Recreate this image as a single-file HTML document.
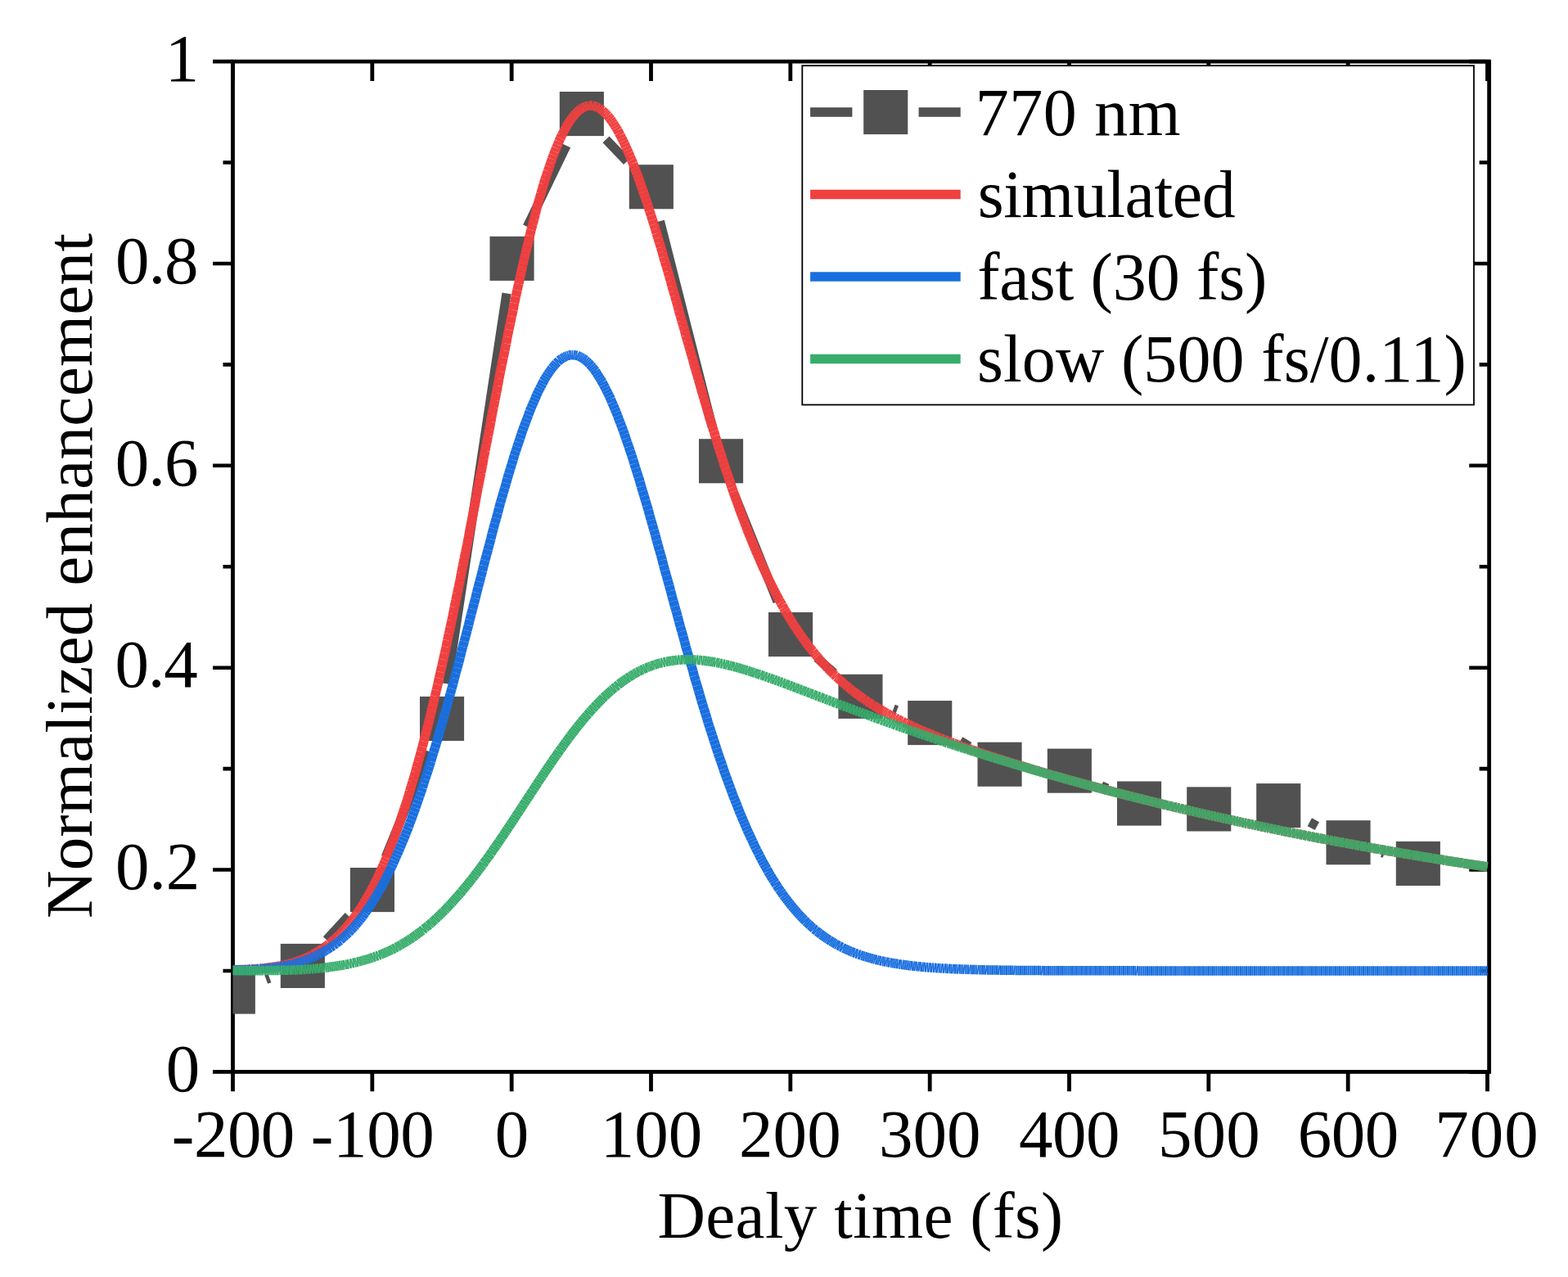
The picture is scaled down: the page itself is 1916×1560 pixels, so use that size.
<!DOCTYPE html>
<html lang="en"><head><meta charset="utf-8"><title>Normalized enhancement vs delay time</title>
<style>html,body{margin:0;padding:0;background:#fff}body{width:1916px;height:1560px;overflow:hidden}svg{display:block}text{font-family:"Liberation Serif",serif;font-size:83.0px;fill:#000;white-space:pre}</style></head><body>
<svg width="1916" height="1560" viewBox="0 0 1916 1560" role="img" aria-label="Normalized enhancement versus delay time">
<rect width="1916" height="1560" fill="#fff"/>
<defs><clipPath id="plot"><rect x="284.5" y="75.1" width="1535.15" height="1234.30"/></clipPath></defs>
<g id="axes" stroke="#000" fill="none">
<path stroke-width="4.8" d="M284.5,72.70V1311.80M1819.65,72.70V1311.80M282.10,75.1H1822.05M282.10,1309.4H1822.05"/>
<path stroke-width="4.8" d="M284.50,1309.4v23.8M284.50,75.1v23.8M454.83,1309.4v23.8M454.83,75.1v23.8M625.17,1309.4v23.8M625.17,75.1v23.8M795.50,1309.4v23.8M795.50,75.1v23.8M965.83,1309.4v23.8M965.83,75.1v23.8M1136.17,1309.4v23.8M1136.17,75.1v23.8M1306.50,1309.4v23.8M1306.50,75.1v23.8M1476.83,1309.4v23.8M1476.83,75.1v23.8M1647.17,1309.4v23.8M1647.17,75.1v23.8M1817.50,1309.4v23.8M1817.50,75.1v23.8"/>
<path stroke-width="4.6" d="M284.5,1309.40h-24.4M1819.65,1309.40h-24.4M284.5,1185.97h-12.0M1819.65,1185.97h-12.0M284.5,1062.54h-24.4M1819.65,1062.54h-24.4M284.5,939.11h-12.0M1819.65,939.11h-12.0M284.5,815.68h-24.4M1819.65,815.68h-24.4M284.5,692.25h-12.0M1819.65,692.25h-12.0M284.5,568.82h-24.4M1819.65,568.82h-24.4M284.5,445.39h-12.0M1819.65,445.39h-12.0M284.5,321.96h-24.4M1819.65,321.96h-24.4M284.5,198.53h-12.0M1819.65,198.53h-12.0M284.5,75.10h-24.4M1819.65,75.10h-24.4"/>
</g>
<g id="data" clip-path="url(#plot)" fill="none">
<path d="M325.2,1196.5L329.5,1194.9M399.0,1148.1L425.9,1118.9M471.2,1047.2L523.8,917.8M546.5,835.3L619.0,358.4M644.2,277.0L692.1,177.9M740.5,170.3L766.1,197.1M806.4,270.1L870.4,521.5M897.1,603.3L950.0,735.0M998.3,803.6L1019.2,822.2M1091.7,866.1L1096.0,867.7M1173.4,905.1L1184.5,911.7M1345.8,959.9L1353.0,963.2M1600.3,1004.2L1609.4,1009.1M1688.8,1041.6L1691.5,1042.5" stroke="#515151" stroke-width="11.2"/>
<g fill="#515151"><rect x="257.8" y="1184.5" width="54.1" height="54.1"/><rect x="342.8" y="1152.9" width="54.1" height="54.1"/><rect x="427.9" y="1060.0" width="54.1" height="54.1"/><rect x="513.0" y="850.9" width="54.1" height="54.1"/><rect x="598.5" y="288.8" width="54.1" height="54.1"/><rect x="683.8" y="112.0" width="54.1" height="54.1"/><rect x="768.8" y="201.2" width="54.1" height="54.1"/><rect x="854.0" y="536.2" width="54.1" height="54.1"/><rect x="939.0" y="748.0" width="54.1" height="54.1"/><rect x="1024.4" y="823.8" width="54.1" height="54.1"/><rect x="1109.2" y="856.0" width="54.1" height="54.1"/><rect x="1194.5" y="906.7" width="54.1" height="54.1"/><rect x="1279.8" y="914.6" width="54.1" height="54.1"/><rect x="1365.0" y="954.5" width="54.1" height="54.1"/><rect x="1450.2" y="961.4" width="54.1" height="54.1"/><rect x="1535.2" y="957.1" width="54.1" height="54.1"/><rect x="1620.5" y="1002.2" width="54.1" height="54.1"/><rect x="1705.8" y="1027.9" width="54.1" height="54.1"/></g>
<g id="simulated" stroke="#F14040" stroke-width="11.5"><path d="M284.5,1184.75L286.25,1184.75"/><path d="M286.25,1184.75L288,1184.75"/><path d="M288,1184.75L289.5,1184.75"/><path d="M289.5,1184.75L291.25,1184.75"/><path d="M291.25,1184.75L293,1184.5"/><path d="M293,1184.5L294.75,1184.5"/><path d="M294.75,1184.5L296.5,1184.5"/><path d="M296.5,1184.5L298.25,1184.5"/><path d="M298.25,1184.5L299.75,1184.5"/><path d="M299.75,1184.5L301.5,1184.25"/><path d="M301.5,1184.25L303.25,1184.25"/><path d="M303.25,1184.25L305,1184.25"/><path d="M305,1184.25L306.75,1184"/><path d="M306.75,1184L308.25,1184"/><path d="M308.25,1184L310,1183.75"/><path d="M310,1183.75L311.75,1183.75"/><path d="M311.75,1183.75L313.5,1183.75"/><path d="M313.5,1183.75L315.25,1183.5"/><path d="M315.25,1183.5L316.75,1183.25"/><path d="M316.75,1183.25L318.5,1183.25"/><path d="M318.5,1183.25L320.25,1183"/><path d="M320.25,1183L322,1182.75"/><path d="M322,1182.75L323.75,1182.75"/><path d="M323.75,1182.75L325.5,1182.5"/><path d="M325.5,1182.5L327,1182.25"/><path d="M327,1182.25L328.75,1182"/><path d="M328.75,1182L330.5,1181.75"/><path d="M330.5,1181.75L332.25,1181.5"/><path d="M332.25,1181.5L334,1181.25"/><path d="M334,1181.25L335.5,1181"/><path d="M335.5,1181L337.25,1180.75"/><path d="M337.25,1180.75L339,1180.5"/><path d="M339,1180.5L340.75,1180.25"/><path d="M340.75,1180.25L342.5,1179.75"/><path d="M342.5,1179.75L344,1179.5"/><path d="M344,1179.5L345.75,1179.25"/><path d="M345.75,1179.25L347.5,1178.75"/><path d="M347.5,1178.75L349.25,1178.5"/><path d="M349.25,1178.5L351,1178"/><path d="M351,1178L352.75,1177.5"/><path d="M352.75,1177.5L354.25,1177.25"/><path d="M354.25,1177.25L356,1176.75"/><path d="M356,1176.75L357.75,1176.25"/><path d="M357.75,1176.25L359.5,1175.75"/><path d="M359.5,1175.75L361.25,1175"/><path d="M361.25,1175L362.75,1174.5"/><path d="M362.75,1174.5L364.5,1174"/><path d="M364.5,1174L366.25,1173.25"/><path d="M366.25,1173.25L368,1172.5"/><path d="M368,1172.5L369.75,1172"/><path d="M369.75,1172L371.5,1171.25"/><path d="M371.5,1171.25L373,1170.5"/><path d="M373,1170.5L374.75,1169.75"/><path d="M374.75,1169.75L376.5,1169"/><path d="M376.5,1169L378.25,1168"/><path d="M378.25,1168L380,1167.25"/><path d="M380,1167.25L381.5,1166.25"/><path d="M381.5,1166.25L383.25,1165.5"/><path d="M383.25,1165.5L385,1164.5"/><path d="M385,1164.5L386.75,1163.5"/><path d="M386.75,1163.5L388.5,1162.5"/><path d="M388.5,1162.5L390,1161.5"/><path d="M390,1161.5L391.75,1160.5"/><path d="M391.75,1160.5L393.5,1159.25"/><path d="M393.5,1159.25L395.25,1158"/><path d="M395.25,1158L397,1157"/><path d="M397,1157L398.75,1155.75"/><path d="M398.75,1155.75L400.25,1154.5"/><path d="M400.25,1154.5L402,1153"/><path d="M402,1153L403.75,1151.75"/><path d="M403.75,1151.75L405.5,1150.25"/><path d="M405.5,1150.25L407.25,1148.75"/><path d="M407.25,1148.75L408.75,1147.25"/><path d="M408.75,1147.25L410.5,1145.75"/><path d="M410.5,1145.75L412.25,1144.25"/><path d="M412.25,1144.25L414,1142.5"/><path d="M414,1142.5L415.75,1141"/><path d="M415.75,1141L417.25,1139.25"/><path d="M417.25,1139.25L419,1137.25"/><path d="M419,1137.25L420.75,1135.5"/><path d="M420.75,1135.5L422.5,1133.5"/><path d="M422.5,1133.5L424.25,1131.5"/><path d="M424.25,1131.5L426,1129.5"/><path d="M426,1129.5L427.5,1127.5"/><path d="M427.5,1127.5L429.25,1125.25"/><path d="M429.25,1125.25L431,1123.25"/><path d="M431,1123.25L432.75,1121"/><path d="M432.75,1121L434.5,1118.5"/><path d="M434.5,1118.5L436,1116.25"/><path d="M436,1116.25L437.75,1113.75"/><path d="M437.75,1113.75L439.5,1111.25"/><path d="M439.5,1111.25L441.25,1108.5"/><path d="M441.25,1108.5L443,1106"/><path d="M443,1106L444.5,1103.25"/><path d="M444.5,1103.25L446.25,1100.25"/><path d="M446.25,1100.25L448,1097.5"/><path d="M448,1097.5L449.75,1094.5"/><path d="M449.75,1094.5L451.5,1091.5"/><path d="M451.5,1091.5L453.25,1088.25"/><path d="M453.25,1088.25L454.75,1085.25"/><path d="M454.75,1085.25L456.5,1081.75"/><path d="M456.5,1081.75L458.25,1078.5"/><path d="M458.25,1078.5L460,1075"/><path d="M460,1075L461.75,1071.5"/><path d="M461.75,1071.5L463.25,1068"/><path d="M463.25,1068L465,1064.25"/><path d="M465,1064.25L466.75,1060.5"/><path d="M466.75,1060.5L468.5,1056.5"/><path d="M468.5,1056.5L470.25,1052.5"/><path d="M470.25,1052.5L472,1048.5"/><path d="M472,1048.5L473.5,1044.5"/><path d="M473.5,1044.5L475.25,1040.25"/><path d="M475.25,1040.25L477,1036"/><path d="M477,1036L478.75,1031.5"/><path d="M478.75,1031.5L480.5,1027"/><path d="M480.5,1027L482,1022.5"/><path d="M482,1022.5L483.75,1017.75"/><path d="M483.75,1017.75L485.5,1013.25"/><path d="M485.5,1013.25L487.25,1008.25"/><path d="M487.25,1008.25L489,1003.5"/><path d="M489,1003.5L490.5,998.5"/><path d="M490.5,998.5L492.25,993.25"/><path d="M492.25,993.25L494,988"/><path d="M494,988L495.75,982.75"/><path d="M495.75,982.75L497.5,977.5"/><path d="M497.5,977.5L499.25,972"/><path d="M499.25,972L500.75,966.5"/><path d="M500.75,966.5L502.5,960.75"/><path d="M502.5,960.75L504.25,955"/><path d="M504.25,955L506,949.25"/><path d="M506,949.25L507.75,943.25"/><path d="M507.75,943.25L509.25,937.25"/><path d="M509.25,937.25L511,931"/><path d="M511,931L512.75,924.75"/><path d="M512.75,924.75L514.5,918.5"/><path d="M514.5,918.5L516.25,912.25"/><path d="M516.25,912.25L517.75,905.75"/><path d="M517.75,905.75L519.5,899"/><path d="M519.5,899L521.25,892.5"/><path d="M521.25,892.5L523,885.75"/><path d="M523,885.75L524.75,878.75"/><path d="M524.75,878.75L526.5,872"/><path d="M526.5,872L528,864.75"/><path d="M528,864.75L529.75,857.75"/><path d="M529.75,857.75L531.5,850.5"/><path d="M531.5,850.5L533.25,843.25"/><path d="M533.25,843.25L535,836"/><path d="M535,836L536.5,828.5"/><path d="M536.5,828.5L538.25,821"/><path d="M538.25,821L540,813.5"/><path d="M540,813.5L541.75,805.75"/><path d="M541.75,805.75L543.5,798"/><path d="M543.5,798L545.25,790.25"/><path d="M545.25,790.25L546.75,782.25"/><path d="M546.75,782.25L548.5,774.25"/><path d="M548.5,774.25L550.25,766.25"/><path d="M550.25,766.25L552,758.25"/><path d="M552,758.25L553.75,750"/><path d="M553.75,750L555.25,741.75"/><path d="M555.25,741.75L557,733.5"/><path d="M557,733.5L558.75,725.25"/><path d="M558.75,725.25L560.5,716.75"/><path d="M560.5,716.75L562.25,708.5"/><path d="M562.25,708.5L563.75,700"/><path d="M563.75,700L565.5,691.5"/><path d="M565.5,691.5L567.25,682.75"/><path d="M567.25,682.75L569,674.25"/><path d="M569,674.25L570.75,665.5"/><path d="M570.75,665.5L572.5,656.75"/><path d="M572.5,656.75L574,648"/><path d="M574,648L575.75,639.25"/><path d="M575.75,639.25L577.5,630.5"/><path d="M577.5,630.5L579.25,621.75"/><path d="M579.25,621.75L581,613"/><path d="M581,613L582.5,604"/><path d="M582.5,604L584.25,595.25"/><path d="M584.25,595.25L586,586.25"/><path d="M586,586.25L587.75,577.5"/><path d="M587.75,577.5L589.5,568.5"/><path d="M589.5,568.5L591,559.5"/><path d="M591,559.5L592.75,550.75"/><path d="M592.75,550.75L594.5,541.75"/><path d="M594.5,541.75L596.25,533"/><path d="M596.25,533L598,524"/><path d="M598,524L599.75,515.25"/><path d="M599.75,515.25L601.25,506.25"/><path d="M601.25,506.25L603,497.5"/><path d="M603,497.5L604.75,488.75"/><path d="M604.75,488.75L606.5,480"/><path d="M606.5,480L608.25,471.25"/><path d="M608.25,471.25L609.75,462.5"/><path d="M609.75,462.5L611.5,453.75"/><path d="M611.5,453.75L613.25,445.25"/><path d="M613.25,445.25L615,436.75"/><path d="M615,436.75L616.75,428.25"/><path d="M616.75,428.25L618.5,419.75"/><path d="M618.5,419.75L620,411.25"/><path d="M620,411.25L621.75,403"/><path d="M621.75,403L623.5,394.75"/><path d="M623.5,394.75L625.25,386.5"/><path d="M625.25,386.5L627,378.5"/><path d="M627,378.5L628.5,370.25"/><path d="M628.5,370.25L630.25,362.25"/><path d="M630.25,362.25L632,354.5"/><path d="M632,354.5L633.75,346.75"/><path d="M633.75,346.75L635.5,339"/><path d="M635.5,339L637,331.5"/><path d="M637,331.5L638.75,323.75"/><path d="M638.75,323.75L640.5,316.5"/><path d="M640.5,316.5L642.25,309.25"/><path d="M642.25,309.25L644,302"/><path d="M644,302L645.75,294.75"/><path d="M645.75,294.75L647.25,288"/><path d="M647.25,288L649,281"/><path d="M649,281L650.75,274.25"/><path d="M650.75,274.25L652.5,267.75"/><path d="M652.5,267.75L654.25,261.25"/><path d="M654.25,261.25L655.75,254.75"/><path d="M655.75,254.75L657.5,248.5"/><path d="M657.5,248.5L659.25,242.5"/><path d="M659.25,242.5L661,236.5"/><path d="M661,236.5L662.75,230.75"/><path d="M662.75,230.75L664.25,225"/><path d="M664.25,225L666,219.5"/><path d="M666,219.5L667.75,214.25"/><path d="M667.75,214.25L669.5,209"/><path d="M669.5,209L671.25,204"/><path d="M671.25,204L673,199"/><path d="M673,199L674.5,194.25"/><path d="M674.5,194.25L676.25,189.5"/><path d="M676.25,189.5L678,185.25"/><path d="M678,185.25L679.75,180.75"/><path d="M679.75,180.75L681.5,176.75"/><path d="M681.5,176.75L683,172.75"/><path d="M683,172.75L684.75,169"/><path d="M684.75,169L686.5,165.25"/><path d="M686.5,165.25L688.25,162"/><path d="M688.25,162L690,158.5"/><path d="M690,158.5L691.5,155.5"/><path d="M691.5,155.5L693.25,152.5"/><path d="M693.25,152.5L695,149.75"/><path d="M695,149.75L696.75,147.25"/><path d="M696.75,147.25L698.5,144.75"/><path d="M698.5,144.75L700.25,142.5"/><path d="M700.25,142.5L701.75,140.5"/><path d="M701.75,140.5L703.5,138.5"/><path d="M703.5,138.5L705.25,136.75"/><path d="M705.25,136.75L707,135.25"/><path d="M707,135.25L708.75,133.75"/><path d="M708.75,133.75L710.25,132.5"/><path d="M710.25,132.5L712,131.5"/><path d="M712,131.5L713.75,130.75"/><path d="M713.75,130.75L715.5,130"/><path d="M715.5,130L717.25,129.5"/><path d="M717.25,129.5L719,129"/><path d="M719,129L720.5,129"/><path d="M720.5,129L722.25,129"/><path d="M722.25,129L724,129"/><path d="M724,129L725.75,129.5"/><path d="M725.75,129.5L727.5,130"/><path d="M727.5,130L729,130.5"/><path d="M729,130.5L730.75,131.5"/><path d="M730.75,131.5L732.5,132.25"/><path d="M732.5,132.25L734.25,133.5"/><path d="M734.25,133.5L736,134.75"/><path d="M736,134.75L737.5,136.25"/><path d="M737.5,136.25L739.25,138"/><path d="M739.25,138L741,139.75"/><path d="M741,139.75L742.75,141.5"/><path d="M742.75,141.5L744.5,143.75"/><path d="M744.5,143.75L746.25,146"/><path d="M746.25,146L747.75,148.25"/><path d="M747.75,148.25L749.5,150.75"/><path d="M749.5,150.75L751.25,153.5"/><path d="M751.25,153.5L753,156.25"/><path d="M753,156.25L754.75,159"/><path d="M754.75,159L756.25,162.25"/><path d="M756.25,162.25L758,165.25"/><path d="M758,165.25L759.75,168.75"/><path d="M759.75,168.75L761.5,172.25"/><path d="M761.5,172.25L763.25,175.75"/><path d="M763.25,175.75L764.75,179.5"/><path d="M764.75,179.5L766.5,183.25"/><path d="M766.5,183.25L768.25,187"/><path d="M768.25,187L770,191.25"/><path d="M770,191.25L771.75,195.25"/><path d="M771.75,195.25L773.5,199.5"/><path d="M773.5,199.5L775,204"/><path d="M775,204L776.75,208.25"/><path d="M776.75,208.25L778.5,212.75"/><path d="M778.5,212.75L780.25,217.5"/><path d="M780.25,217.5L782,222.25"/><path d="M782,222.25L783.5,227"/><path d="M783.5,227L785.25,232"/><path d="M785.25,232L787,237"/><path d="M787,237L788.75,242"/><path d="M788.75,242L790.5,247.25"/><path d="M790.5,247.25L792.25,252.5"/><path d="M792.25,252.5L793.75,257.75"/><path d="M793.75,257.75L795.5,263"/><path d="M795.5,263L797.25,268.5"/><path d="M797.25,268.5L799,274"/><path d="M799,274L800.75,279.5"/><path d="M800.75,279.5L802.25,285"/><path d="M802.25,285L804,290.75"/><path d="M804,290.75L805.75,296.25"/><path d="M805.75,296.25L807.5,302"/><path d="M807.5,302L809.25,307.75"/><path d="M809.25,307.75L810.75,313.75"/><path d="M810.75,313.75L812.5,319.5"/><path d="M812.5,319.5L814.25,325.25"/><path d="M814.25,325.25L816,331.25"/><path d="M816,331.25L817.75,337.25"/><path d="M817.75,337.25L819.5,343.25"/><path d="M819.5,343.25L821,349.25"/><path d="M821,349.25L822.75,355.25"/><path d="M822.75,355.25L824.5,361.25"/><path d="M824.5,361.25L826.25,367.25"/><path d="M826.25,367.25L828,373.25"/><path d="M828,373.25L829.5,379.25"/><path d="M829.5,379.25L831.25,385.5"/><path d="M831.25,385.5L833,391.5"/><path d="M833,391.5L834.75,397.5"/><path d="M834.75,397.5L836.5,403.5"/><path d="M836.5,403.5L838,409.75"/><path d="M838,409.75L839.75,415.75"/><path d="M839.75,415.75L841.5,421.75"/><path d="M841.5,421.75L843.25,427.75"/><path d="M843.25,427.75L845,433.75"/><path d="M845,433.75L846.75,439.75"/><path d="M846.75,439.75L848.25,445.75"/><path d="M848.25,445.75L850,451.75"/><path d="M850,451.75L851.75,457.75"/><path d="M851.75,457.75L853.5,463.75"/><path d="M853.5,463.75L855.25,469.5"/><path d="M855.25,469.5L856.75,475.5"/><path d="M856.75,475.5L858.5,481.25"/><path d="M858.5,481.25L860.25,487.25"/><path d="M860.25,487.25L862,493"/><path d="M862,493L863.75,498.75"/><path d="M863.75,498.75L865.25,504.5"/><path d="M865.25,504.5L867,510.25"/><path d="M867,510.25L868.75,515.75"/><path d="M868.75,515.75L870.5,521.5"/><path d="M870.5,521.5L872.25,527"/><path d="M872.25,527L874,532.5"/><path d="M874,532.5L875.5,538"/><path d="M875.5,538L877.25,543.5"/><path d="M877.25,543.5L879,549"/><path d="M879,549L880.75,554.25"/><path d="M880.75,554.25L882.5,559.75"/><path d="M882.5,559.75L884,565"/><path d="M884,565L885.75,570.25"/><path d="M885.75,570.25L887.5,575.25"/><path d="M887.5,575.25L889.25,580.5"/><path d="M889.25,580.5L891,585.5"/><path d="M891,585.5L892.75,590.5"/><path d="M892.75,590.5L894.25,595.5"/><path d="M894.25,595.5L896,600.5"/><path d="M896,600.5L897.75,605.5"/><path d="M897.75,605.5L899.5,610.25"/><path d="M899.5,610.25L901.25,615"/><path d="M901.25,615L902.75,619.75"/><path d="M902.75,619.75L904.5,624.25"/><path d="M904.5,624.25L906.25,629"/><path d="M906.25,629L908,633.5"/><path d="M908,633.5L909.75,638"/><path d="M909.75,638L911.25,642.5"/><path d="M911.25,642.5L913,647"/><path d="M913,647L914.75,651.25"/><path d="M914.75,651.25L916.5,655.5"/><path d="M916.5,655.5L918.25,659.75"/><path d="M918.25,659.75L920,664"/><path d="M920,664L921.5,668"/><path d="M921.5,668L923.25,672"/><path d="M923.25,672L925,676.25"/><path d="M925,676.25L926.75,680"/><path d="M926.75,680L928.5,684"/><path d="M928.5,684L930,687.75"/><path d="M930,687.75L931.75,691.75"/><path d="M931.75,691.75L933.5,695.5"/><path d="M933.5,695.5L935.25,699"/><path d="M935.25,699L937,702.75"/><path d="M937,702.75L938.5,706.25"/><path d="M938.5,706.25L940.25,709.75"/><path d="M940.25,709.75L942,713.25"/><path d="M942,713.25L943.75,716.75"/><path d="M943.75,716.75L945.5,720"/><path d="M945.5,720L947.25,723.5"/><path d="M947.25,723.5L948.75,726.75"/><path d="M948.75,726.75L950.5,730"/><path d="M950.5,730L952.25,733"/><path d="M952.25,733L954,736.25"/><path d="M954,736.25L955.75,739.25"/><path d="M955.75,739.25L957.25,742.25"/><path d="M957.25,742.25L959,745.25"/><path d="M959,745.25L960.75,748.25"/><path d="M960.75,748.25L962.5,751"/><path d="M962.5,751L964.25,754"/><path d="M964.25,754L966,756.75"/><path d="M966,756.75L967.5,759.5"/><path d="M967.5,759.5L969.25,762.25"/><path d="M969.25,762.25L971,764.75"/><path d="M971,764.75L972.75,767.5"/><path d="M972.75,767.5L974.5,770"/><path d="M974.5,770L976,772.5"/><path d="M976,772.5L977.75,775"/><path d="M977.75,775L979.5,777.5"/><path d="M979.5,777.5L981.25,779.75"/><path d="M981.25,779.75L983,782.25"/><path d="M983,782.25L984.5,784.5"/><path d="M984.5,784.5L986.25,786.75"/><path d="M986.25,786.75L988,789"/><path d="M988,789L989.75,791.25"/><path d="M989.75,791.25L991.5,793.5"/><path d="M991.5,793.5L993.25,795.5"/><path d="M993.25,795.5L994.75,797.75"/><path d="M994.75,797.75L996.5,799.75"/><path d="M996.5,799.75L998.25,801.75"/><path d="M998.25,801.75L1000,803.75"/><path d="M1000,803.75L1001.75,805.75"/><path d="M1001.75,805.75L1003.25,807.75"/><path d="M1003.25,807.75L1005,809.5"/><path d="M1005,809.5L1006.75,811.5"/><path d="M1006.75,811.5L1008.5,813.25"/><path d="M1008.5,813.25L1010.25,815"/><path d="M1010.25,815L1011.75,817"/><path d="M1011.75,817L1013.5,818.75"/><path d="M1013.5,818.75L1015.25,820.25"/><path d="M1015.25,820.25L1017,822"/><path d="M1017,822L1018.75,823.75"/><path d="M1018.75,823.75L1020.5,825.25"/><path d="M1020.5,825.25L1022,827"/><path d="M1022,827L1023.75,828.5"/><path d="M1023.75,828.5L1025.5,830"/><path d="M1025.5,830L1027.25,831.75"/><path d="M1027.25,831.75L1029,833.25"/><path d="M1029,833.25L1030.5,834.5"/><path d="M1030.5,834.5L1032.25,836"/><path d="M1032.25,836L1034,837.5"/><path d="M1034,837.5L1035.75,839"/><path d="M1035.75,839L1037.5,840.25"/><path d="M1037.5,840.25L1039.25,841.75"/><path d="M1039.25,841.75L1040.75,843"/><path d="M1040.75,843L1042.5,844.5"/><path d="M1042.5,844.5L1044.25,845.75"/><path d="M1044.25,845.75L1046,847"/><path d="M1046,847L1047.75,848.25"/><path d="M1047.75,848.25L1049.25,849.5"/><path d="M1049.25,849.5L1051,850.75"/><path d="M1051,850.75L1052.75,852"/><path d="M1052.75,852L1054.5,853.25"/><path d="M1054.5,853.25L1056.25,854.25"/><path d="M1056.25,854.25L1057.75,855.5"/><path d="M1057.75,855.5L1059.5,856.75"/><path d="M1059.5,856.75L1061.25,857.75"/><path d="M1061.25,857.75L1063,859"/><path d="M1063,859L1064.75,860"/><path d="M1064.75,860L1066.5,861"/><path d="M1066.5,861L1068,862.25"/><path d="M1068,862.25L1069.75,863.25"/><path d="M1069.75,863.25L1071.5,864.25"/><path d="M1071.5,864.25L1073.25,865.25"/><path d="M1073.25,865.25L1075,866.25"/><path d="M1075,866.25L1076.5,867.25"/><path d="M1076.5,867.25L1078.25,868.25"/><path d="M1078.25,868.25L1080,869.25"/><path d="M1080,869.25L1081.75,870.25"/><path d="M1081.75,870.25L1083.5,871.25"/><path d="M1083.5,871.25L1085,872.25"/><path d="M1085,872.25L1086.75,873.25"/><path d="M1086.75,873.25L1088.5,874"/><path d="M1088.5,874L1090.25,875"/><path d="M1090.25,875L1092,876"/><path d="M1092,876L1093.75,876.75"/><path d="M1093.75,876.75L1095.25,877.75"/><path d="M1095.25,877.75L1097,878.5"/><path d="M1097,878.5L1098.75,879.5"/><path d="M1098.75,879.5L1100.5,880.25"/><path d="M1100.5,880.25L1102.25,881"/><path d="M1102.25,881L1103.75,882"/><path d="M1103.75,882L1105.5,882.75"/><path d="M1105.5,882.75L1107.25,883.5"/><path d="M1107.25,883.5L1109,884.5"/><path d="M1109,884.5L1110.75,885.25"/><path d="M1110.75,885.25L1112.25,886"/><path d="M1112.25,886L1114,886.75"/><path d="M1114,886.75L1115.75,887.5"/><path d="M1115.75,887.5L1117.5,888.5"/><path d="M1117.5,888.5L1119.25,889.25"/><path d="M1119.25,889.25L1121,890"/><path d="M1121,890L1122.5,890.75"/><path d="M1122.5,890.75L1124.25,891.5"/><path d="M1124.25,891.5L1126,892.25"/><path d="M1126,892.25L1127.75,893"/><path d="M1127.75,893L1129.5,893.75"/><path d="M1129.5,893.75L1131,894.25"/><path d="M1131,894.25L1132.75,895"/><path d="M1132.75,895L1134.5,895.75"/><path d="M1134.5,895.75L1136.25,896.5"/><path d="M1136.25,896.5L1138,897.25"/><path d="M1138,897.25L1139.75,898"/><path d="M1139.75,898L1141.25,898.5"/><path d="M1141.25,898.5L1143,899.25"/><path d="M1143,899.25L1144.75,900"/><path d="M1144.75,900L1146.5,900.75"/><path d="M1146.5,900.75L1148.25,901.25"/><path d="M1148.25,901.25L1149.75,902"/><path d="M1149.75,902L1151.5,902.75"/><path d="M1151.5,902.75L1153.25,903.25"/><path d="M1153.25,903.25L1155,904"/><path d="M1155,904L1156.75,904.75"/><path d="M1156.75,904.75L1158.25,905.25"/><path d="M1158.25,905.25L1160,906"/><path d="M1160,906L1161.75,906.5"/><path d="M1161.75,906.5L1163.5,907.25"/><path d="M1163.5,907.25L1165.25,907.75"/><path d="M1165.25,907.75L1167,908.5"/><path d="M1167,908.5L1168.5,909.25"/><path d="M1168.5,909.25L1170.25,909.75"/><path d="M1170.25,909.75L1172,910.25"/><path d="M1172,910.25L1173.75,911"/><path d="M1173.75,911L1175.5,911.5"/><path d="M1175.5,911.5L1177,912.25"/><path d="M1177,912.25L1178.75,912.75"/><path d="M1178.75,912.75L1180.5,913.5"/><path d="M1180.5,913.5L1182.25,914"/><path d="M1182.25,914L1184,914.75"/><path d="M1184,914.75L1185.5,915.25"/><path d="M1185.5,915.25L1187.25,915.75"/><path d="M1187.25,915.75L1189,916.5"/><path d="M1189,916.5L1190.75,917"/><path d="M1190.75,917L1192.5,917.5"/><path d="M1192.5,917.5L1194.25,918.25"/><path d="M1194.25,918.25L1195.75,918.75"/><path d="M1195.75,918.75L1197.5,919.25"/><path d="M1197.5,919.25L1199.25,920"/><path d="M1199.25,920L1201,920.5"/><path d="M1201,920.5L1202.75,921"/><path d="M1202.75,921L1204.25,921.75"/><path d="M1204.25,921.75L1206,922.25"/><path d="M1206,922.25L1207.75,922.75"/><path d="M1207.75,922.75L1209.5,923.25"/><path d="M1209.5,923.25L1211.25,924"/><path d="M1211.25,924L1213,924.5"/><path d="M1213,924.5L1214.5,925"/><path d="M1214.5,925L1216.25,925.5"/><path d="M1216.25,925.5L1218,926"/><path d="M1218,926L1219.75,926.75"/><path d="M1219.75,926.75L1221.5,927.25"/><path d="M1221.5,927.25L1223,927.75"/><path d="M1223,927.75L1224.75,928.25"/><path d="M1224.75,928.25L1226.5,928.75"/><path d="M1226.5,928.75L1228.25,929.5"/><path d="M1228.25,929.5L1230,930"/><path d="M1230,930L1231.5,930.5"/><path d="M1231.5,930.5L1233.25,931"/><path d="M1233.25,931L1235,931.5"/><path d="M1235,931.5L1236.75,932"/><path d="M1236.75,932L1238.5,932.5"/><path d="M1238.5,932.5L1240.25,933.25"/><path d="M1240.25,933.25L1241.75,933.75"/><path d="M1241.75,933.75L1243.5,934.25"/><path d="M1243.5,934.25L1245.25,934.75"/><path d="M1245.25,934.75L1247,935.25"/><path d="M1247,935.25L1248.75,935.75"/><path d="M1248.75,935.75L1250.25,936.25"/><path d="M1250.25,936.25L1252,936.75"/><path d="M1252,936.75L1253.75,937.25"/><path d="M1253.75,937.25L1255.5,937.75"/><path d="M1255.5,937.75L1257.25,938.25"/><path d="M1257.25,938.25L1258.75,938.75"/><path d="M1258.75,938.75L1260.5,939.5"/><path d="M1260.5,939.5L1262.25,940"/><path d="M1262.25,940L1264,940.5"/><path d="M1264,940.5L1265.75,941"/><path d="M1265.75,941L1267.5,941.5"/><path d="M1267.5,941.5L1269,942"/><path d="M1269,942L1270.75,942.5"/><path d="M1270.75,942.5L1272.5,943"/><path d="M1272.5,943L1274.25,943.5"/><path d="M1274.25,943.5L1276,944"/><path d="M1276,944L1277.5,944.5"/><path d="M1277.5,944.5L1279.25,945"/><path d="M1279.25,945L1281,945.5"/><path d="M1281,945.5L1282.75,946"/><path d="M1282.75,946L1284.5,946.5"/><path d="M1284.5,946.5L1286.25,947"/><path d="M1286.25,947L1287.75,947.5"/><path d="M1287.75,947.5L1289.5,948"/><path d="M1289.5,948L1291.25,948.25"/><path d="M1291.25,948.25L1293,948.75"/><path d="M1293,948.75L1294.75,949.25"/><path d="M1294.75,949.25L1296.25,949.75"/><path d="M1296.25,949.75L1298,950.25"/><path d="M1298,950.25L1299.75,950.75"/><path d="M1299.75,950.75L1301.5,951.25"/><path d="M1301.5,951.25L1303.25,951.75"/><path d="M1303.25,951.75L1304.75,952.25"/><path d="M1304.75,952.25L1306.5,952.75"/><path d="M1306.5,952.75L1308.25,953.25"/><path d="M1308.25,953.25L1310,953.75"/><path d="M1310,953.75L1311.75,954.25"/><path d="M1311.75,954.25L1313.5,954.5"/><path d="M1313.5,954.5L1315,955"/><path d="M1315,955L1316.75,955.5"/><path d="M1316.75,955.5L1318.5,956"/><path d="M1318.5,956L1320.25,956.5"/><path d="M1320.25,956.5L1322,957"/><path d="M1322,957L1323.5,957.5"/><path d="M1323.5,957.5L1325.25,958"/><path d="M1325.25,958L1327,958.25"/><path d="M1327,958.25L1328.75,958.75"/><path d="M1328.75,958.75L1330.5,959.25"/><path d="M1330.5,959.25L1332,959.75"/><path d="M1332,959.75L1333.75,960.25"/><path d="M1333.75,960.25L1335.5,960.75"/><path d="M1335.5,960.75L1337.25,961.25"/><path d="M1337.25,961.25L1339,961.5"/><path d="M1339,961.5L1340.75,962"/><path d="M1340.75,962L1342.25,962.5"/><path d="M1342.25,962.5L1344,963"/><path d="M1344,963L1345.75,963.5"/><path d="M1345.75,963.5L1347.5,963.75"/><path d="M1347.5,963.75L1349.25,964.25"/><path d="M1349.25,964.25L1350.75,964.75"/><path d="M1350.75,964.75L1352.5,965.25"/><path d="M1352.5,965.25L1354.25,965.75"/><path d="M1354.25,965.75L1356,966"/><path d="M1356,966L1357.75,966.5"/><path d="M1357.75,966.5L1359.25,967"/><path d="M1359.25,967L1361,967.5"/><path d="M1361,967.5L1362.75,968"/><path d="M1362.75,968L1364.5,968.25"/><path d="M1364.5,968.25L1366.25,968.75"/><path d="M1366.25,968.75L1368,969.25"/><path d="M1368,969.25L1369.5,969.75"/><path d="M1369.5,969.75L1371.25,970"/><path d="M1371.25,970L1373,970.5"/><path d="M1373,970.5L1374.75,971"/><path d="M1374.75,971L1376.5,971.5"/><path d="M1376.5,971.5L1378,971.75"/><path d="M1378,971.75L1379.75,972.25"/><path d="M1379.75,972.25L1381.5,972.75"/><path d="M1381.5,972.75L1383.25,973.25"/><path d="M1383.25,973.25L1385,973.5"/><path d="M1385,973.5L1386.75,974"/><path d="M1386.75,974L1388.25,974.5"/><path d="M1388.25,974.5L1390,974.75"/><path d="M1390,974.75L1391.75,975.25"/><path d="M1391.75,975.25L1393.5,975.75"/><path d="M1393.5,975.75L1395.25,976.25"/><path d="M1395.25,976.25L1396.75,976.5"/><path d="M1396.75,976.5L1398.5,977"/><path d="M1398.5,977L1400.25,977.5"/><path d="M1400.25,977.5L1402,977.75"/><path d="M1402,977.75L1403.75,978.25"/><path d="M1403.75,978.25L1405.25,978.75"/><path d="M1405.25,978.75L1407,979"/><path d="M1407,979L1408.75,979.5"/><path d="M1408.75,979.5L1410.5,980"/><path d="M1410.5,980L1412.25,980.5"/><path d="M1412.25,980.5L1414,980.75"/><path d="M1414,980.75L1415.5,981.25"/><path d="M1415.5,981.25L1417.25,981.5"/><path d="M1417.25,981.5L1419,982"/><path d="M1419,982L1420.75,982.5"/><path d="M1420.75,982.5L1422.5,982.75"/><path d="M1422.5,982.75L1424,983.25"/><path d="M1424,983.25L1425.75,983.75"/><path d="M1425.75,983.75L1427.5,984"/><path d="M1427.5,984L1429.25,984.5"/><path d="M1429.25,984.5L1431,985"/><path d="M1431,985L1432.5,985.25"/><path d="M1432.5,985.25L1434.25,985.75"/><path d="M1434.25,985.75L1436,986.25"/><path d="M1436,986.25L1437.75,986.5"/><path d="M1437.75,986.5L1439.5,987"/><path d="M1439.5,987L1441.25,987.25"/><path d="M1441.25,987.25L1442.75,987.75"/><path d="M1442.75,987.75L1444.5,988.25"/><path d="M1444.5,988.25L1446.25,988.5"/><path d="M1446.25,988.5L1448,989"/><path d="M1448,989L1449.75,989.25"/><path d="M1449.75,989.25L1451.25,989.75"/><path d="M1451.25,989.75L1453,990.25"/><path d="M1453,990.25L1454.75,990.5"/><path d="M1454.75,990.5L1456.5,991"/><path d="M1456.5,991L1458.25,991.25"/><path d="M1458.25,991.25L1460,991.75"/><path d="M1460,991.75L1461.5,992.25"/><path d="M1461.5,992.25L1463.25,992.5"/><path d="M1463.25,992.5L1465,993"/><path d="M1465,993L1466.75,993.25"/><path d="M1466.75,993.25L1468.5,993.75"/><path d="M1468.5,993.75L1470,994"/><path d="M1470,994L1471.75,994.5"/><path d="M1471.75,994.5L1473.5,994.75"/><path d="M1473.5,994.75L1475.25,995.25"/><path d="M1475.25,995.25L1477,995.75"/><path d="M1477,995.75L1478.5,996"/><path d="M1478.5,996L1480.25,996.5"/><path d="M1480.25,996.5L1482,996.75"/><path d="M1482,996.75L1483.75,997.25"/><path d="M1483.75,997.25L1485.5,997.5"/><path d="M1485.5,997.5L1487.25,998"/><path d="M1487.25,998L1488.75,998.25"/><path d="M1488.75,998.25L1490.5,998.75"/><path d="M1490.5,998.75L1492.25,999"/><path d="M1492.25,999L1494,999.5"/><path d="M1494,999.5L1495.75,999.75"/><path d="M1495.75,999.75L1497.25,1000.25"/><path d="M1497.25,1000.25L1499,1000.5"/><path d="M1499,1000.5L1500.75,1001"/><path d="M1500.75,1001L1502.5,1001.25"/><path d="M1502.5,1001.25L1504.25,1001.75"/><path d="M1504.25,1001.75L1505.75,1002"/><path d="M1505.75,1002L1507.5,1002.5"/><path d="M1507.5,1002.5L1509.25,1002.75"/><path d="M1509.25,1002.75L1511,1003.25"/><path d="M1511,1003.25L1512.75,1003.5"/><path d="M1512.75,1003.5L1514.5,1004"/><path d="M1514.5,1004L1516,1004.25"/><path d="M1516,1004.25L1517.75,1004.75"/><path d="M1517.75,1004.75L1519.5,1005"/><path d="M1519.5,1005L1521.25,1005.5"/><path d="M1521.25,1005.5L1523,1005.75"/><path d="M1523,1005.75L1524.5,1006.25"/><path d="M1524.5,1006.25L1526.25,1006.5"/><path d="M1526.25,1006.5L1528,1006.75"/><path d="M1528,1006.75L1529.75,1007.25"/><path d="M1529.75,1007.25L1531.5,1007.5"/><path d="M1531.5,1007.5L1533,1008"/><path d="M1533,1008L1534.75,1008.25"/><path d="M1534.75,1008.25L1536.5,1008.75"/><path d="M1536.5,1008.75L1538.25,1009"/><path d="M1538.25,1009L1540,1009.5"/><path d="M1540,1009.5L1541.75,1009.75"/><path d="M1541.75,1009.75L1543.25,1010"/><path d="M1543.25,1010L1545,1010.5"/><path d="M1545,1010.5L1546.75,1010.75"/><path d="M1546.75,1010.75L1548.5,1011.25"/><path d="M1548.5,1011.25L1550.25,1011.5"/><path d="M1550.25,1011.5L1551.75,1012"/><path d="M1551.75,1012L1553.5,1012.25"/><path d="M1553.5,1012.25L1555.25,1012.5"/><path d="M1555.25,1012.5L1557,1013"/><path d="M1557,1013L1558.75,1013.25"/><path d="M1558.75,1013.25L1560.5,1013.75"/><path d="M1560.5,1013.75L1562,1014"/><path d="M1562,1014L1563.75,1014.25"/><path d="M1563.75,1014.25L1565.5,1014.75"/><path d="M1565.5,1014.75L1567.25,1015"/><path d="M1567.25,1015L1569,1015.5"/><path d="M1569,1015.5L1570.5,1015.75"/><path d="M1570.5,1015.75L1572.25,1016"/><path d="M1572.25,1016L1574,1016.5"/><path d="M1574,1016.5L1575.75,1016.75"/><path d="M1575.75,1016.75L1577.5,1017"/><path d="M1577.5,1017L1579,1017.5"/><path d="M1579,1017.5L1580.75,1017.75"/><path d="M1580.75,1017.75L1582.5,1018"/><path d="M1582.5,1018L1584.25,1018.5"/><path d="M1584.25,1018.5L1586,1018.75"/><path d="M1586,1018.75L1587.75,1019.25"/><path d="M1587.75,1019.25L1589.25,1019.5"/><path d="M1589.25,1019.5L1591,1019.75"/><path d="M1591,1019.75L1592.75,1020.25"/><path d="M1592.75,1020.25L1594.5,1020.5"/><path d="M1594.5,1020.5L1596.25,1020.75"/><path d="M1596.25,1020.75L1597.75,1021.25"/><path d="M1597.75,1021.25L1599.5,1021.5"/><path d="M1599.5,1021.5L1601.25,1021.75"/><path d="M1601.25,1021.75L1603,1022.25"/><path d="M1603,1022.25L1604.75,1022.5"/><path d="M1604.75,1022.5L1606.25,1022.75"/><path d="M1606.25,1022.75L1608,1023.25"/><path d="M1608,1023.25L1609.75,1023.5"/><path d="M1609.75,1023.5L1611.5,1023.75"/><path d="M1611.5,1023.75L1613.25,1024.25"/><path d="M1613.25,1024.25L1615,1024.5"/><path d="M1615,1024.5L1616.5,1024.75"/><path d="M1616.5,1024.75L1618.25,1025"/><path d="M1618.25,1025L1620,1025.5"/><path d="M1620,1025.5L1621.75,1025.75"/><path d="M1621.75,1025.75L1623.5,1026"/><path d="M1623.5,1026L1625,1026.5"/><path d="M1625,1026.5L1626.75,1026.75"/><path d="M1626.75,1026.75L1628.5,1027"/><path d="M1628.5,1027L1630.25,1027.5"/><path d="M1630.25,1027.5L1632,1027.75"/><path d="M1632,1027.75L1633.75,1028"/><path d="M1633.75,1028L1635.25,1028.25"/><path d="M1635.25,1028.25L1637,1028.75"/><path d="M1637,1028.75L1638.75,1029"/><path d="M1638.75,1029L1640.5,1029.25"/><path d="M1640.5,1029.25L1642.25,1029.5"/><path d="M1642.25,1029.5L1643.75,1030"/><path d="M1643.75,1030L1645.5,1030.25"/><path d="M1645.5,1030.25L1647.25,1030.5"/><path d="M1647.25,1030.5L1649,1031"/><path d="M1649,1031L1650.75,1031.25"/><path d="M1650.75,1031.25L1652.25,1031.5"/><path d="M1652.25,1031.5L1654,1031.75"/><path d="M1654,1031.75L1655.75,1032.25"/><path d="M1655.75,1032.25L1657.5,1032.5"/><path d="M1657.5,1032.5L1659.25,1032.75"/><path d="M1659.25,1032.75L1661,1033"/><path d="M1661,1033L1662.5,1033.5"/><path d="M1662.5,1033.5L1664.25,1033.75"/><path d="M1664.25,1033.75L1666,1034"/><path d="M1666,1034L1667.75,1034.25"/><path d="M1667.75,1034.25L1669.5,1034.5"/><path d="M1669.5,1034.5L1671,1035"/><path d="M1671,1035L1672.75,1035.25"/><path d="M1672.75,1035.25L1674.5,1035.5"/><path d="M1674.5,1035.5L1676.25,1035.75"/><path d="M1676.25,1035.75L1678,1036.25"/><path d="M1678,1036.25L1679.5,1036.5"/><path d="M1679.5,1036.5L1681.25,1036.75"/><path d="M1681.25,1036.75L1683,1037"/><path d="M1683,1037L1684.75,1037.25"/><path d="M1684.75,1037.25L1686.5,1037.75"/><path d="M1686.5,1037.75L1688.25,1038"/><path d="M1688.25,1038L1689.75,1038.25"/><path d="M1689.75,1038.25L1691.5,1038.5"/><path d="M1691.5,1038.5L1693.25,1038.75"/><path d="M1693.25,1038.75L1695,1039.25"/><path d="M1695,1039.25L1696.75,1039.5"/><path d="M1696.75,1039.5L1698.25,1039.75"/><path d="M1698.25,1039.75L1700,1040"/><path d="M1700,1040L1701.75,1040.25"/><path d="M1701.75,1040.25L1703.5,1040.75"/><path d="M1703.5,1040.75L1705.25,1041"/><path d="M1705.25,1041L1707,1041.25"/><path d="M1707,1041.25L1708.5,1041.5"/><path d="M1708.5,1041.5L1710.25,1041.75"/><path d="M1710.25,1041.75L1712,1042"/><path d="M1712,1042L1713.75,1042.5"/><path d="M1713.75,1042.5L1715.5,1042.75"/><path d="M1715.5,1042.75L1717,1043"/><path d="M1717,1043L1718.75,1043.25"/><path d="M1718.75,1043.25L1720.5,1043.5"/><path d="M1720.5,1043.5L1722.25,1043.75"/><path d="M1722.25,1043.75L1724,1044"/><path d="M1724,1044L1725.5,1044.5"/><path d="M1725.5,1044.5L1727.25,1044.75"/><path d="M1727.25,1044.75L1729,1045"/><path d="M1729,1045L1730.75,1045.25"/><path d="M1730.75,1045.25L1732.5,1045.5"/><path d="M1732.5,1045.5L1734.25,1045.75"/><path d="M1734.25,1045.75L1735.75,1046"/><path d="M1735.75,1046L1737.5,1046.5"/><path d="M1737.5,1046.5L1739.25,1046.75"/><path d="M1739.25,1046.75L1741,1047"/><path d="M1741,1047L1742.75,1047.25"/><path d="M1742.75,1047.25L1744.25,1047.5"/><path d="M1744.25,1047.5L1746,1047.75"/><path d="M1746,1047.75L1747.75,1048"/><path d="M1747.75,1048L1749.5,1048.25"/><path d="M1749.5,1048.25L1751.25,1048.75"/><path d="M1751.25,1048.75L1752.75,1049"/><path d="M1752.75,1049L1754.5,1049.25"/><path d="M1754.5,1049.25L1756.25,1049.5"/><path d="M1756.25,1049.5L1758,1049.75"/><path d="M1758,1049.75L1759.75,1050"/><path d="M1759.75,1050L1761.5,1050.25"/><path d="M1761.5,1050.25L1763,1050.5"/><path d="M1763,1050.5L1764.75,1050.75"/><path d="M1764.75,1050.75L1766.5,1051.25"/><path d="M1766.5,1051.25L1768.25,1051.5"/><path d="M1768.25,1051.5L1770,1051.75"/><path d="M1770,1051.75L1771.5,1052"/><path d="M1771.5,1052L1773.25,1052.25"/><path d="M1773.25,1052.25L1775,1052.5"/><path d="M1775,1052.5L1776.75,1052.75"/><path d="M1776.75,1052.75L1778.5,1053"/><path d="M1778.5,1053L1780,1053.25"/><path d="M1780,1053.25L1781.75,1053.5"/><path d="M1781.75,1053.5L1783.5,1053.75"/><path d="M1783.5,1053.75L1785.25,1054"/><path d="M1785.25,1054L1787,1054.25"/><path d="M1787,1054.25L1788.75,1054.75"/><path d="M1788.75,1054.75L1790.25,1055"/><path d="M1790.25,1055L1792,1055.25"/><path d="M1792,1055.25L1793.75,1055.5"/><path d="M1793.75,1055.5L1795.5,1055.75"/><path d="M1795.5,1055.75L1797.25,1056"/><path d="M1797.25,1056L1798.75,1056.25"/><path d="M1798.75,1056.25L1800.5,1056.5"/><path d="M1800.5,1056.5L1802.25,1056.75"/><path d="M1802.25,1056.75L1804,1057"/><path d="M1804,1057L1805.75,1057.25"/><path d="M1805.75,1057.25L1807.5,1057.5"/><path d="M1807.5,1057.5L1809,1057.75"/><path d="M1809,1057.75L1810.75,1058"/><path d="M1810.75,1058L1812.5,1058.25"/><path d="M1812.5,1058.25L1814.25,1058.5"/><path d="M1814.25,1058.5L1816,1058.75"/><path d="M1816,1058.75L1817.5,1059"/></g>
<g id="fast" stroke="#1A6FDF" stroke-width="11.5"><path d="M284.5,1185L286.25,1185"/><path d="M286.25,1185L288,1184.75"/><path d="M288,1184.75L289.5,1184.75"/><path d="M289.5,1184.75L291.25,1184.75"/><path d="M291.25,1184.75L293,1184.75"/><path d="M293,1184.75L294.75,1184.75"/><path d="M294.75,1184.75L296.5,1184.75"/><path d="M296.5,1184.75L298.25,1184.75"/><path d="M298.25,1184.75L299.75,1184.75"/><path d="M299.75,1184.75L301.5,1184.5"/><path d="M301.5,1184.5L303.25,1184.5"/><path d="M303.25,1184.5L305,1184.5"/><path d="M305,1184.5L306.75,1184.25"/><path d="M306.75,1184.25L308.25,1184.25"/><path d="M308.25,1184.25L310,1184.25"/><path d="M310,1184.25L311.75,1184"/><path d="M311.75,1184L313.5,1184"/><path d="M313.5,1184L315.25,1184"/><path d="M315.25,1184L316.75,1183.75"/><path d="M316.75,1183.75L318.5,1183.75"/><path d="M318.5,1183.75L320.25,1183.5"/><path d="M320.25,1183.5L322,1183.5"/><path d="M322,1183.5L323.75,1183.25"/><path d="M323.75,1183.25L325.5,1183"/><path d="M325.5,1183L327,1183"/><path d="M327,1183L328.75,1182.75"/><path d="M328.75,1182.75L330.5,1182.5"/><path d="M330.5,1182.5L332.25,1182.25"/><path d="M332.25,1182.25L334,1182.25"/><path d="M334,1182.25L335.5,1182"/><path d="M335.5,1182L337.25,1181.75"/><path d="M337.25,1181.75L339,1181.5"/><path d="M339,1181.5L340.75,1181.25"/><path d="M340.75,1181.25L342.5,1181"/><path d="M342.5,1181L344,1180.75"/><path d="M344,1180.75L345.75,1180.25"/><path d="M345.75,1180.25L347.5,1180"/><path d="M347.5,1180L349.25,1179.75"/><path d="M349.25,1179.75L351,1179.5"/><path d="M351,1179.5L352.75,1179"/><path d="M352.75,1179L354.25,1178.75"/><path d="M354.25,1178.75L356,1178.25"/><path d="M356,1178.25L357.75,1177.75"/><path d="M357.75,1177.75L359.5,1177.5"/><path d="M359.5,1177.5L361.25,1177"/><path d="M361.25,1177L362.75,1176.5"/><path d="M362.75,1176.5L364.5,1176"/><path d="M364.5,1176L366.25,1175.5"/><path d="M366.25,1175.5L368,1175"/><path d="M368,1175L369.75,1174.25"/><path d="M369.75,1174.25L371.5,1173.75"/><path d="M371.5,1173.75L373,1173"/><path d="M373,1173L374.75,1172.5"/><path d="M374.75,1172.5L376.5,1171.75"/><path d="M376.5,1171.75L378.25,1171"/><path d="M378.25,1171L380,1170.5"/><path d="M380,1170.5L381.5,1169.75"/><path d="M381.5,1169.75L383.25,1169"/><path d="M383.25,1169L385,1168"/><path d="M385,1168L386.75,1167.25"/><path d="M386.75,1167.25L388.5,1166.5"/><path d="M388.5,1166.5L390,1165.5"/><path d="M390,1165.5L391.75,1164.75"/><path d="M391.75,1164.75L393.5,1163.75"/><path d="M393.5,1163.75L395.25,1162.75"/><path d="M395.25,1162.75L397,1161.75"/><path d="M397,1161.75L398.75,1160.75"/><path d="M398.75,1160.75L400.25,1159.75"/><path d="M400.25,1159.75L402,1158.5"/><path d="M402,1158.5L403.75,1157.5"/><path d="M403.75,1157.5L405.5,1156.25"/><path d="M405.5,1156.25L407.25,1155.25"/><path d="M407.25,1155.25L408.75,1154"/><path d="M408.75,1154L410.5,1152.75"/><path d="M410.5,1152.75L412.25,1151.25"/><path d="M412.25,1151.25L414,1150"/><path d="M414,1150L415.75,1148.75"/><path d="M415.75,1148.75L417.25,1147.25"/><path d="M417.25,1147.25L419,1145.75"/><path d="M419,1145.75L420.75,1144.25"/><path d="M420.75,1144.25L422.5,1142.75"/><path d="M422.5,1142.75L424.25,1141"/><path d="M424.25,1141L426,1139.5"/><path d="M426,1139.5L427.5,1137.75"/><path d="M427.5,1137.75L429.25,1136"/><path d="M429.25,1136L431,1134"/><path d="M431,1134L432.75,1132.25"/><path d="M432.75,1132.25L434.5,1130.25"/><path d="M434.5,1130.25L436,1128.25"/><path d="M436,1128.25L437.75,1126.25"/><path d="M437.75,1126.25L439.5,1124.25"/><path d="M439.5,1124.25L441.25,1122"/><path d="M441.25,1122L443,1119.75"/><path d="M443,1119.75L444.5,1117.5"/><path d="M444.5,1117.5L446.25,1115.25"/><path d="M446.25,1115.25L448,1112.75"/><path d="M448,1112.75L449.75,1110.25"/><path d="M449.75,1110.25L451.5,1107.75"/><path d="M451.5,1107.75L453.25,1105.25"/><path d="M453.25,1105.25L454.75,1102.5"/><path d="M454.75,1102.5L456.5,1099.75"/><path d="M456.5,1099.75L458.25,1097"/><path d="M458.25,1097L460,1094.25"/><path d="M460,1094.25L461.75,1091.25"/><path d="M461.75,1091.25L463.25,1088.25"/><path d="M463.25,1088.25L465,1085.25"/><path d="M465,1085.25L466.75,1082.25"/><path d="M466.75,1082.25L468.5,1079"/><path d="M468.5,1079L470.25,1075.75"/><path d="M470.25,1075.75L472,1072.5"/><path d="M472,1072.5L473.5,1069"/><path d="M473.5,1069L475.25,1065.5"/><path d="M475.25,1065.5L477,1062"/><path d="M477,1062L478.75,1058.5"/><path d="M478.75,1058.5L480.5,1054.75"/><path d="M480.5,1054.75L482,1051"/><path d="M482,1051L483.75,1047.25"/><path d="M483.75,1047.25L485.5,1043.5"/><path d="M485.5,1043.5L487.25,1039.5"/><path d="M487.25,1039.5L489,1035.5"/><path d="M489,1035.5L490.5,1031.5"/><path d="M490.5,1031.5L492.25,1027.5"/><path d="M492.25,1027.5L494,1023.25"/><path d="M494,1023.25L495.75,1019"/><path d="M495.75,1019L497.5,1014.5"/><path d="M497.5,1014.5L499.25,1010.25"/><path d="M499.25,1010.25L500.75,1005.75"/><path d="M500.75,1005.75L502.5,1001.25"/><path d="M502.5,1001.25L504.25,996.5"/><path d="M504.25,996.5L506,991.75"/><path d="M506,991.75L507.75,987"/><path d="M507.75,987L509.25,982.25"/><path d="M509.25,982.25L511,977.25"/><path d="M511,977.25L512.75,972.5"/><path d="M512.75,972.5L514.5,967.25"/><path d="M514.5,967.25L516.25,962.25"/><path d="M516.25,962.25L517.75,957"/><path d="M517.75,957L519.5,951.75"/><path d="M519.5,951.75L521.25,946.5"/><path d="M521.25,946.5L523,941.25"/><path d="M523,941.25L524.75,935.75"/><path d="M524.75,935.75L526.5,930.25"/><path d="M526.5,930.25L528,924.75"/><path d="M528,924.75L529.75,919.25"/><path d="M529.75,919.25L531.5,913.5"/><path d="M531.5,913.5L533.25,907.75"/><path d="M533.25,907.75L535,902"/><path d="M535,902L536.5,896.25"/><path d="M536.5,896.25L538.25,890.25"/><path d="M538.25,890.25L540,884.25"/><path d="M540,884.25L541.75,878.25"/><path d="M541.75,878.25L543.5,872.25"/><path d="M543.5,872.25L545.25,866.25"/><path d="M545.25,866.25L546.75,860"/><path d="M546.75,860L548.5,853.75"/><path d="M548.5,853.75L550.25,847.5"/><path d="M550.25,847.5L552,841.25"/><path d="M552,841.25L553.75,835"/><path d="M553.75,835L555.25,828.75"/><path d="M555.25,828.75L557,822.25"/><path d="M557,822.25L558.75,816"/><path d="M558.75,816L560.5,809.5"/><path d="M560.5,809.5L562.25,803"/><path d="M562.25,803L563.75,796.5"/><path d="M563.75,796.5L565.5,790"/><path d="M565.5,790L567.25,783.5"/><path d="M567.25,783.5L569,777"/><path d="M569,777L570.75,770.25"/><path d="M570.75,770.25L572.5,763.75"/><path d="M572.5,763.75L574,757.25"/><path d="M574,757.25L575.75,750.5"/><path d="M575.75,750.5L577.5,744"/><path d="M577.5,744L579.25,737.25"/><path d="M579.25,737.25L581,730.75"/><path d="M581,730.75L582.5,724"/><path d="M582.5,724L584.25,717.5"/><path d="M584.25,717.5L586,710.75"/><path d="M586,710.75L587.75,704.25"/><path d="M587.75,704.25L589.5,697.5"/><path d="M589.5,697.5L591,691"/><path d="M591,691L592.75,684.5"/><path d="M592.75,684.5L594.5,678"/><path d="M594.5,678L596.25,671.5"/><path d="M596.25,671.5L598,665"/><path d="M598,665L599.75,658.5"/><path d="M599.75,658.5L601.25,652"/><path d="M601.25,652L603,645.5"/><path d="M603,645.5L604.75,639.25"/><path d="M604.75,639.25L606.5,633"/><path d="M606.5,633L608.25,626.75"/><path d="M608.25,626.75L609.75,620.5"/><path d="M609.75,620.5L611.5,614.25"/><path d="M611.5,614.25L613.25,608.25"/><path d="M613.25,608.25L615,602.25"/><path d="M615,602.25L616.75,596.25"/><path d="M616.75,596.25L618.5,590.25"/><path d="M618.5,590.25L620,584.5"/><path d="M620,584.5L621.75,578.75"/><path d="M621.75,578.75L623.5,573"/><path d="M623.5,573L625.25,567.25"/><path d="M625.25,567.25L627,561.75"/><path d="M627,561.75L628.5,556.25"/><path d="M628.5,556.25L630.25,551"/><path d="M630.25,551L632,545.75"/><path d="M632,545.75L633.75,540.5"/><path d="M633.75,540.5L635.5,535.5"/><path d="M635.5,535.5L637,530.5"/><path d="M637,530.5L638.75,525.5"/><path d="M638.75,525.5L640.5,520.75"/><path d="M640.5,520.75L642.25,516"/><path d="M642.25,516L644,511.5"/><path d="M644,511.5L645.75,507"/><path d="M645.75,507L647.25,502.5"/><path d="M647.25,502.5L649,498.25"/><path d="M649,498.25L650.75,494.25"/><path d="M650.75,494.25L652.5,490.25"/><path d="M652.5,490.25L654.25,486.25"/><path d="M654.25,486.25L655.75,482.5"/><path d="M655.75,482.5L657.5,478.75"/><path d="M657.5,478.75L659.25,475.25"/><path d="M659.25,475.25L661,472"/><path d="M661,472L662.75,468.75"/><path d="M662.75,468.75L664.25,465.5"/><path d="M664.25,465.5L666,462.5"/><path d="M666,462.5L667.75,459.75"/><path d="M667.75,459.75L669.5,457"/><path d="M669.5,457L671.25,454.5"/><path d="M671.25,454.5L673,452"/><path d="M673,452L674.5,449.75"/><path d="M674.5,449.75L676.25,447.75"/><path d="M676.25,447.75L678,445.75"/><path d="M678,445.75L679.75,443.75"/><path d="M679.75,443.75L681.5,442.25"/><path d="M681.5,442.25L683,440.5"/><path d="M683,440.5L684.75,439.25"/><path d="M684.75,439.25L686.5,438"/><path d="M686.5,438L688.25,437"/><path d="M688.25,437L690,436"/><path d="M690,436L691.5,435.25"/><path d="M691.5,435.25L693.25,434.5"/><path d="M693.25,434.5L695,434"/><path d="M695,434L696.75,433.75"/><path d="M696.75,433.75L698.5,433.5"/><path d="M698.5,433.5L700.25,433.5"/><path d="M700.25,433.5L701.75,433.75"/><path d="M701.75,433.75L703.5,434"/><path d="M703.5,434L705.25,434.25"/><path d="M705.25,434.25L707,435"/><path d="M707,435L708.75,435.75"/><path d="M708.75,435.75L710.25,436.5"/><path d="M710.25,436.5L712,437.5"/><path d="M712,437.5L713.75,438.75"/><path d="M713.75,438.75L715.5,440"/><path d="M715.5,440L717.25,441.5"/><path d="M717.25,441.5L719,443.25"/><path d="M719,443.25L720.5,445"/><path d="M720.5,445L722.25,446.75"/><path d="M722.25,446.75L724,448.75"/><path d="M724,448.75L725.75,451"/><path d="M725.75,451L727.5,453.25"/><path d="M727.5,453.25L729,455.75"/><path d="M729,455.75L730.75,458.5"/><path d="M730.75,458.5L732.5,461.25"/><path d="M732.5,461.25L734.25,464"/><path d="M734.25,464L736,467"/><path d="M736,467L737.5,470"/><path d="M737.5,470L739.25,473.25"/><path d="M739.25,473.25L741,476.75"/><path d="M741,476.75L742.75,480.25"/><path d="M742.75,480.25L744.5,483.75"/><path d="M744.5,483.75L746.25,487.5"/><path d="M746.25,487.5L747.75,491.5"/><path d="M747.75,491.5L749.5,495.25"/><path d="M749.5,495.25L751.25,499.5"/><path d="M751.25,499.5L753,503.5"/><path d="M753,503.5L754.75,508"/><path d="M754.75,508L756.25,512.25"/><path d="M756.25,512.25L758,516.75"/><path d="M758,516.75L759.75,521.25"/><path d="M759.75,521.25L761.5,526"/><path d="M761.5,526L763.25,530.75"/><path d="M763.25,530.75L764.75,535.75"/><path d="M764.75,535.75L766.5,540.5"/><path d="M766.5,540.5L768.25,545.75"/><path d="M768.25,545.75L770,550.75"/><path d="M770,550.75L771.75,556"/><path d="M771.75,556L773.5,561.25"/><path d="M773.5,561.25L775,566.5"/><path d="M775,566.5L776.75,572"/><path d="M776.75,572L778.5,577.5"/><path d="M778.5,577.5L780.25,583"/><path d="M780.25,583L782,588.5"/><path d="M782,588.5L783.5,594.25"/><path d="M783.5,594.25L785.25,600"/><path d="M785.25,600L787,605.75"/><path d="M787,605.75L788.75,611.5"/><path d="M788.75,611.5L790.5,617.5"/><path d="M790.5,617.5L792.25,623.25"/><path d="M792.25,623.25L793.75,629.25"/><path d="M793.75,629.25L795.5,635.25"/><path d="M795.5,635.25L797.25,641.25"/><path d="M797.25,641.25L799,647.5"/><path d="M799,647.5L800.75,653.5"/><path d="M800.75,653.5L802.25,659.5"/><path d="M802.25,659.5L804,665.75"/><path d="M804,665.75L805.75,672"/><path d="M805.75,672L807.5,678"/><path d="M807.5,678L809.25,684.25"/><path d="M809.25,684.25L810.75,690.5"/><path d="M810.75,690.5L812.5,696.75"/><path d="M812.5,696.75L814.25,703"/><path d="M814.25,703L816,709.25"/><path d="M816,709.25L817.75,715.5"/><path d="M817.75,715.5L819.5,721.75"/><path d="M819.5,721.75L821,728"/><path d="M821,728L822.75,734.25"/><path d="M822.75,734.25L824.5,740.5"/><path d="M824.5,740.5L826.25,746.5"/><path d="M826.25,746.5L828,752.75"/><path d="M828,752.75L829.5,759"/><path d="M829.5,759L831.25,765.25"/><path d="M831.25,765.25L833,771.25"/><path d="M833,771.25L834.75,777.5"/><path d="M834.75,777.5L836.5,783.75"/><path d="M836.5,783.75L838,789.75"/><path d="M838,789.75L839.75,795.75"/><path d="M839.75,795.75L841.5,801.75"/><path d="M841.5,801.75L843.25,807.75"/><path d="M843.25,807.75L845,813.75"/><path d="M845,813.75L846.75,819.75"/><path d="M846.75,819.75L848.25,825.75"/><path d="M848.25,825.75L850,831.5"/><path d="M850,831.5L851.75,837.5"/><path d="M851.75,837.5L853.5,843.25"/><path d="M853.5,843.25L855.25,849"/><path d="M855.25,849L856.75,854.75"/><path d="M856.75,854.75L858.5,860.5"/><path d="M858.5,860.5L860.25,866"/><path d="M860.25,866L862,871.75"/><path d="M862,871.75L863.75,877.25"/><path d="M863.75,877.25L865.25,882.75"/><path d="M865.25,882.75L867,888"/><path d="M867,888L868.75,893.5"/><path d="M868.75,893.5L870.5,898.75"/><path d="M870.5,898.75L872.25,904.25"/><path d="M872.25,904.25L874,909.5"/><path d="M874,909.5L875.5,914.5"/><path d="M875.5,914.5L877.25,919.75"/><path d="M877.25,919.75L879,924.75"/><path d="M879,924.75L880.75,929.75"/><path d="M880.75,929.75L882.5,934.75"/><path d="M882.5,934.75L884,939.5"/><path d="M884,939.5L885.75,944.5"/><path d="M885.75,944.5L887.5,949.25"/><path d="M887.5,949.25L889.25,954"/><path d="M889.25,954L891,958.75"/><path d="M891,958.75L892.75,963.25"/><path d="M892.75,963.25L894.25,967.75"/><path d="M894.25,967.75L896,972.25"/><path d="M896,972.25L897.75,976.75"/><path d="M897.75,976.75L899.5,981"/><path d="M899.5,981L901.25,985.25"/><path d="M901.25,985.25L902.75,989.5"/><path d="M902.75,989.5L904.5,993.75"/><path d="M904.5,993.75L906.25,997.75"/><path d="M906.25,997.75L908,1002"/><path d="M908,1002L909.75,1006"/><path d="M909.75,1006L911.25,1009.75"/><path d="M911.25,1009.75L913,1013.75"/><path d="M913,1013.75L914.75,1017.5"/><path d="M914.75,1017.5L916.5,1021.25"/><path d="M916.5,1021.25L918.25,1025"/><path d="M918.25,1025L920,1028.5"/><path d="M920,1028.5L921.5,1032.25"/><path d="M921.5,1032.25L923.25,1035.75"/><path d="M923.25,1035.75L925,1039"/><path d="M925,1039L926.75,1042.5"/><path d="M926.75,1042.5L928.5,1045.75"/><path d="M928.5,1045.75L930,1049"/><path d="M930,1049L931.75,1052.25"/><path d="M931.75,1052.25L933.5,1055.5"/><path d="M933.5,1055.5L935.25,1058.5"/><path d="M935.25,1058.5L937,1061.5"/><path d="M937,1061.5L938.5,1064.5"/><path d="M938.5,1064.5L940.25,1067.5"/><path d="M940.25,1067.5L942,1070.25"/><path d="M942,1070.25L943.75,1073.25"/><path d="M943.75,1073.25L945.5,1076"/><path d="M945.5,1076L947.25,1078.5"/><path d="M947.25,1078.5L948.75,1081.25"/><path d="M948.75,1081.25L950.5,1083.75"/><path d="M950.5,1083.75L952.25,1086.5"/><path d="M952.25,1086.5L954,1088.75"/><path d="M954,1088.75L955.75,1091.25"/><path d="M955.75,1091.25L957.25,1093.75"/><path d="M957.25,1093.75L959,1096"/><path d="M959,1096L960.75,1098.25"/><path d="M960.75,1098.25L962.5,1100.5"/><path d="M962.5,1100.5L964.25,1102.75"/><path d="M964.25,1102.75L966,1105"/><path d="M966,1105L967.5,1107"/><path d="M967.5,1107L969.25,1109"/><path d="M969.25,1109L971,1111"/><path d="M971,1111L972.75,1113"/><path d="M972.75,1113L974.5,1115"/><path d="M974.5,1115L976,1116.75"/><path d="M976,1116.75L977.75,1118.75"/><path d="M977.75,1118.75L979.5,1120.5"/><path d="M979.5,1120.5L981.25,1122.25"/><path d="M981.25,1122.25L983,1124"/><path d="M983,1124L984.5,1125.75"/><path d="M984.5,1125.75L986.25,1127.25"/><path d="M986.25,1127.25L988,1128.75"/><path d="M988,1128.75L989.75,1130.5"/><path d="M989.75,1130.5L991.5,1132"/><path d="M991.5,1132L993.25,1133.5"/><path d="M993.25,1133.5L994.75,1135"/><path d="M994.75,1135L996.5,1136.25"/><path d="M996.5,1136.25L998.25,1137.75"/><path d="M998.25,1137.75L1000,1139"/><path d="M1000,1139L1001.75,1140.25"/><path d="M1001.75,1140.25L1003.25,1141.5"/><path d="M1003.25,1141.5L1005,1142.75"/><path d="M1005,1142.75L1006.75,1144"/><path d="M1006.75,1144L1008.5,1145.25"/><path d="M1008.5,1145.25L1010.25,1146.5"/><path d="M1010.25,1146.5L1011.75,1147.5"/><path d="M1011.75,1147.5L1013.5,1148.5"/><path d="M1013.5,1148.5L1015.25,1149.75"/><path d="M1015.25,1149.75L1017,1150.75"/><path d="M1017,1150.75L1018.75,1151.75"/><path d="M1018.75,1151.75L1020.5,1152.75"/><path d="M1020.5,1152.75L1022,1153.75"/><path d="M1022,1153.75L1023.75,1154.75"/><path d="M1023.75,1154.75L1025.5,1155.5"/><path d="M1025.5,1155.5L1027.25,1156.5"/><path d="M1027.25,1156.5L1029,1157.25"/><path d="M1029,1157.25L1030.5,1158.25"/><path d="M1030.5,1158.25L1032.25,1159"/><path d="M1032.25,1159L1034,1159.75"/><path d="M1034,1159.75L1035.75,1160.5"/><path d="M1035.75,1160.5L1037.5,1161.25"/><path d="M1037.5,1161.25L1039.25,1162"/><path d="M1039.25,1162L1040.75,1162.75"/><path d="M1040.75,1162.75L1042.5,1163.5"/><path d="M1042.5,1163.5L1044.25,1164"/><path d="M1044.25,1164L1046,1164.75"/><path d="M1046,1164.75L1047.75,1165.25"/><path d="M1047.75,1165.25L1049.25,1166"/><path d="M1049.25,1166L1051,1166.5"/><path d="M1051,1166.5L1052.75,1167.25"/><path d="M1052.75,1167.25L1054.5,1167.75"/><path d="M1054.5,1167.75L1056.25,1168.25"/><path d="M1056.25,1168.25L1057.75,1168.75"/><path d="M1057.75,1168.75L1059.5,1169.25"/><path d="M1059.5,1169.25L1061.25,1169.75"/><path d="M1061.25,1169.75L1063,1170.25"/><path d="M1063,1170.25L1064.75,1170.75"/><path d="M1064.75,1170.75L1066.5,1171.25"/><path d="M1066.5,1171.25L1068,1171.75"/><path d="M1068,1171.75L1069.75,1172.25"/><path d="M1069.75,1172.25L1071.5,1172.5"/><path d="M1071.5,1172.5L1073.25,1173"/><path d="M1073.25,1173L1075,1173.5"/><path d="M1075,1173.5L1076.5,1173.75"/><path d="M1076.5,1173.75L1078.25,1174.25"/><path d="M1078.25,1174.25L1080,1174.5"/><path d="M1080,1174.5L1081.75,1174.75"/><path d="M1081.75,1174.75L1083.5,1175.25"/><path d="M1083.5,1175.25L1085,1175.5"/><path d="M1085,1175.5L1086.75,1175.75"/><path d="M1086.75,1175.75L1088.5,1176.25"/><path d="M1088.5,1176.25L1090.25,1176.5"/><path d="M1090.25,1176.5L1092,1176.75"/><path d="M1092,1176.75L1093.75,1177"/><path d="M1093.75,1177L1095.25,1177.25"/><path d="M1095.25,1177.25L1097,1177.5"/><path d="M1097,1177.5L1098.75,1178"/><path d="M1098.75,1178L1100.5,1178.25"/><path d="M1100.5,1178.25L1102.25,1178.25"/><path d="M1102.25,1178.25L1103.75,1178.5"/><path d="M1103.75,1178.5L1105.5,1178.75"/><path d="M1105.5,1178.75L1107.25,1179"/><path d="M1107.25,1179L1109,1179.25"/><path d="M1109,1179.25L1110.75,1179.5"/><path d="M1110.75,1179.5L1112.25,1179.75"/><path d="M1112.25,1179.75L1114,1180"/><path d="M1114,1180L1115.75,1180"/><path d="M1115.75,1180L1117.5,1180.25"/><path d="M1117.5,1180.25L1119.25,1180.5"/><path d="M1119.25,1180.5L1121,1180.5"/><path d="M1121,1180.5L1122.5,1180.75"/><path d="M1122.5,1180.75L1124.25,1181"/><path d="M1124.25,1181L1126,1181"/><path d="M1126,1181L1127.75,1181.25"/><path d="M1127.75,1181.25L1129.5,1181.5"/><path d="M1129.5,1181.5L1131,1181.5"/><path d="M1131,1181.5L1132.75,1181.75"/><path d="M1132.75,1181.75L1134.5,1181.75"/><path d="M1134.5,1181.75L1136.25,1182"/><path d="M1136.25,1182L1138,1182"/><path d="M1138,1182L1139.75,1182.25"/><path d="M1139.75,1182.25L1141.25,1182.25"/><path d="M1141.25,1182.25L1143,1182.5"/><path d="M1143,1182.5L1144.75,1182.5"/><path d="M1144.75,1182.5L1146.5,1182.75"/><path d="M1146.5,1182.75L1148.25,1182.75"/><path d="M1148.25,1182.75L1149.75,1182.75"/><path d="M1149.75,1182.75L1151.5,1183"/><path d="M1151.5,1183L1153.25,1183"/><path d="M1153.25,1183L1155,1183.25"/><path d="M1155,1183.25L1156.75,1183.25"/><path d="M1156.75,1183.25L1158.25,1183.25"/><path d="M1158.25,1183.25L1160,1183.5"/><path d="M1160,1183.5L1161.75,1183.5"/><path d="M1161.75,1183.5L1163.5,1183.5"/><path d="M1163.5,1183.5L1165.25,1183.75"/><path d="M1165.25,1183.75L1167,1183.75"/><path d="M1167,1183.75L1168.5,1183.75"/><path d="M1168.5,1183.75L1170.25,1183.75"/><path d="M1170.25,1183.75L1172,1184"/><path d="M1172,1184L1173.75,1184"/><path d="M1173.75,1184L1175.5,1184"/><path d="M1175.5,1184L1177,1184"/><path d="M1177,1184L1178.75,1184.25"/><path d="M1178.75,1184.25L1180.5,1184.25"/><path d="M1180.5,1184.25L1182.25,1184.25"/><path d="M1182.25,1184.25L1184,1184.25"/><path d="M1184,1184.25L1185.5,1184.5"/><path d="M1185.5,1184.5L1187.25,1184.5"/><path d="M1187.25,1184.5L1189,1184.5"/><path d="M1189,1184.5L1190.75,1184.5"/><path d="M1190.75,1184.5L1192.5,1184.5"/><path d="M1192.5,1184.5L1194.25,1184.5"/><path d="M1194.25,1184.5L1195.75,1184.75"/><path d="M1195.75,1184.75L1197.5,1184.75"/><path d="M1197.5,1184.75L1199.25,1184.75"/><path d="M1199.25,1184.75L1201,1184.75"/><path d="M1201,1184.75L1202.75,1184.75"/><path d="M1202.75,1184.75L1204.25,1184.75"/><path d="M1204.25,1184.75L1206,1185"/><path d="M1206,1185L1207.75,1185"/><path d="M1207.75,1185L1209.5,1185"/><path d="M1209.5,1185L1211.25,1185"/><path d="M1211.25,1185L1213,1185"/><path d="M1213,1185L1214.5,1185"/><path d="M1214.5,1185L1216.25,1185"/><path d="M1216.25,1185L1218,1185"/><path d="M1218,1185L1219.75,1185"/><path d="M1219.75,1185L1221.5,1185.25"/><path d="M1221.5,1185.25L1223,1185.25"/><path d="M1223,1185.25L1224.75,1185.25"/><path d="M1224.75,1185.25L1226.5,1185.25"/><path d="M1226.5,1185.25L1228.25,1185.25"/><path d="M1228.25,1185.25L1230,1185.25"/><path d="M1230,1185.25L1231.5,1185.25"/><path d="M1231.5,1185.25L1233.25,1185.25"/><path d="M1233.25,1185.25L1235,1185.25"/><path d="M1235,1185.25L1236.75,1185.25"/><path d="M1236.75,1185.25L1238.5,1185.25"/><path d="M1238.5,1185.25L1240.25,1185.5"/><path d="M1240.25,1185.5L1241.75,1185.5"/><path d="M1241.75,1185.5L1243.5,1185.5"/><path d="M1243.5,1185.5L1245.25,1185.5"/><path d="M1245.25,1185.5L1247,1185.5"/><path d="M1247,1185.5L1248.75,1185.5"/><path d="M1248.75,1185.5L1250.25,1185.5"/><path d="M1250.25,1185.5L1252,1185.5"/><path d="M1252,1185.5L1253.75,1185.5"/><path d="M1253.75,1185.5L1255.5,1185.5"/><path d="M1255.5,1185.5L1257.25,1185.5"/><path d="M1257.25,1185.5L1258.75,1185.5"/><path d="M1258.75,1185.5L1260.5,1185.5"/><path d="M1260.5,1185.5L1262.25,1185.5"/><path d="M1262.25,1185.5L1264,1185.5"/><path d="M1264,1185.5L1265.75,1185.5"/><path d="M1265.75,1185.5L1267.5,1185.5"/><path d="M1267.5,1185.5L1269,1185.5"/><path d="M1269,1185.5L1270.75,1185.5"/><path d="M1270.75,1185.5L1272.5,1185.5"/><path d="M1272.5,1185.5L1274.25,1185.75"/><path d="M1274.25,1185.75L1276,1185.75"/><path d="M1276,1185.75L1277.5,1185.75"/><path d="M1277.5,1185.75L1279.25,1185.75"/><path d="M1279.25,1185.75L1281,1185.75"/><path d="M1281,1185.75L1282.75,1185.75"/><path d="M1282.75,1185.75L1284.5,1185.75"/><path d="M1284.5,1185.75L1286.25,1185.75"/><path d="M1286.25,1185.75L1287.75,1185.75"/><path d="M1287.75,1185.75L1289.5,1185.75"/><path d="M1289.5,1185.75L1291.25,1185.75"/><path d="M1291.25,1185.75L1293,1185.75"/><path d="M1293,1185.75L1294.75,1185.75"/><path d="M1294.75,1185.75L1296.25,1185.75"/><path d="M1296.25,1185.75L1298,1185.75"/><path d="M1298,1185.75L1299.75,1185.75"/><path d="M1299.75,1185.75L1301.5,1185.75"/><path d="M1301.5,1185.75L1303.25,1185.75"/><path d="M1303.25,1185.75L1304.75,1185.75"/><path d="M1304.75,1185.75L1306.5,1185.75"/><path d="M1306.5,1185.75L1308.25,1185.75"/><path d="M1308.25,1185.75L1310,1185.75"/><path d="M1310,1185.75L1311.75,1185.75"/><path d="M1311.75,1185.75L1313.5,1185.75"/><path d="M1313.5,1185.75L1315,1185.75"/><path d="M1315,1185.75L1316.75,1185.75"/><path d="M1316.75,1185.75L1318.5,1185.75"/><path d="M1318.5,1185.75L1320.25,1185.75"/><path d="M1320.25,1185.75L1322,1185.75"/><path d="M1322,1185.75L1323.5,1185.75"/><path d="M1323.5,1185.75L1325.25,1185.75"/><path d="M1325.25,1185.75L1327,1185.75"/><path d="M1327,1185.75L1328.75,1185.75"/><path d="M1328.75,1185.75L1330.5,1185.75"/><path d="M1330.5,1185.75L1332,1185.75"/><path d="M1332,1185.75L1333.75,1185.75"/><path d="M1333.75,1185.75L1335.5,1185.75"/><path d="M1335.5,1185.75L1337.25,1185.75"/><path d="M1337.25,1185.75L1339,1185.75"/><path d="M1339,1185.75L1340.75,1185.75"/><path d="M1340.75,1185.75L1342.25,1185.75"/><path d="M1342.25,1185.75L1344,1185.75"/><path d="M1344,1185.75L1345.75,1185.75"/><path d="M1345.75,1185.75L1347.5,1185.75"/><path d="M1347.5,1185.75L1349.25,1185.75"/><path d="M1349.25,1185.75L1350.75,1185.75"/><path d="M1350.75,1185.75L1352.5,1185.75"/><path d="M1352.5,1185.75L1354.25,1185.75"/><path d="M1354.25,1185.75L1356,1185.75"/><path d="M1356,1185.75L1357.75,1185.75"/><path d="M1357.75,1185.75L1359.25,1185.75"/><path d="M1359.25,1185.75L1361,1185.75"/><path d="M1361,1185.75L1362.75,1185.75"/><path d="M1362.75,1185.75L1364.5,1185.75"/><path d="M1364.5,1185.75L1366.25,1185.75"/><path d="M1366.25,1185.75L1368,1185.75"/><path d="M1368,1185.75L1369.5,1185.75"/><path d="M1369.5,1185.75L1371.25,1185.75"/><path d="M1371.25,1185.75L1373,1185.75"/><path d="M1373,1185.75L1374.75,1185.75"/><path d="M1374.75,1185.75L1376.5,1185.75"/><path d="M1376.5,1185.75L1378,1185.75"/><path d="M1378,1185.75L1379.75,1185.75"/><path d="M1379.75,1185.75L1381.5,1185.75"/><path d="M1381.5,1185.75L1383.25,1185.75"/><path d="M1383.25,1185.75L1385,1185.75"/><path d="M1385,1185.75L1386.75,1185.75"/><path d="M1386.75,1185.75L1388.25,1185.75"/><path d="M1388.25,1185.75L1390,1186"/><path d="M1390,1186L1391.75,1186"/><path d="M1391.75,1186L1393.5,1186"/><path d="M1393.5,1186L1395.25,1186"/><path d="M1395.25,1186L1396.75,1186"/><path d="M1396.75,1186L1398.5,1186"/><path d="M1398.5,1186L1400.25,1186"/><path d="M1400.25,1186L1402,1186"/><path d="M1402,1186L1403.75,1186"/><path d="M1403.75,1186L1405.25,1186"/><path d="M1405.25,1186L1407,1186"/><path d="M1407,1186L1408.75,1186"/><path d="M1408.75,1186L1410.5,1186"/><path d="M1410.5,1186L1412.25,1186"/><path d="M1412.25,1186L1414,1186"/><path d="M1414,1186L1415.5,1186"/><path d="M1415.5,1186L1417.25,1186"/><path d="M1417.25,1186L1419,1186"/><path d="M1419,1186L1420.75,1186"/><path d="M1420.75,1186L1422.5,1186"/><path d="M1422.5,1186L1424,1186"/><path d="M1424,1186L1425.75,1186"/><path d="M1425.75,1186L1427.5,1186"/><path d="M1427.5,1186L1429.25,1186"/><path d="M1429.25,1186L1431,1186"/><path d="M1431,1186L1432.5,1186"/><path d="M1432.5,1186L1434.25,1186"/><path d="M1434.25,1186L1436,1186"/><path d="M1436,1186L1437.75,1186"/><path d="M1437.75,1186L1439.5,1186"/><path d="M1439.5,1186L1441.25,1186"/><path d="M1441.25,1186L1442.75,1186"/><path d="M1442.75,1186L1444.5,1186"/><path d="M1444.5,1186L1446.25,1186"/><path d="M1446.25,1186L1448,1186"/><path d="M1448,1186L1449.75,1186"/><path d="M1449.75,1186L1451.25,1186"/><path d="M1451.25,1186L1453,1186"/><path d="M1453,1186L1454.75,1186"/><path d="M1454.75,1186L1456.5,1186"/><path d="M1456.5,1186L1458.25,1186"/><path d="M1458.25,1186L1460,1186"/><path d="M1460,1186L1461.5,1186"/><path d="M1461.5,1186L1463.25,1186"/><path d="M1463.25,1186L1465,1186"/><path d="M1465,1186L1466.75,1186"/><path d="M1466.75,1186L1468.5,1186"/><path d="M1468.5,1186L1470,1186"/><path d="M1470,1186L1471.75,1186"/><path d="M1471.75,1186L1473.5,1186"/><path d="M1473.5,1186L1475.25,1186"/><path d="M1475.25,1186L1477,1186"/><path d="M1477,1186L1478.5,1186"/><path d="M1478.5,1186L1480.25,1186"/><path d="M1480.25,1186L1482,1186"/><path d="M1482,1186L1483.75,1186"/><path d="M1483.75,1186L1485.5,1186"/><path d="M1485.5,1186L1487.25,1186"/><path d="M1487.25,1186L1488.75,1186"/><path d="M1488.75,1186L1490.5,1186"/><path d="M1490.5,1186L1492.25,1186"/><path d="M1492.25,1186L1494,1186"/><path d="M1494,1186L1495.75,1186"/><path d="M1495.75,1186L1497.25,1186"/><path d="M1497.25,1186L1499,1186"/><path d="M1499,1186L1500.75,1186"/><path d="M1500.75,1186L1502.5,1186"/><path d="M1502.5,1186L1504.25,1186"/><path d="M1504.25,1186L1505.75,1186"/><path d="M1505.75,1186L1507.5,1186"/><path d="M1507.5,1186L1509.25,1186"/><path d="M1509.25,1186L1511,1186"/><path d="M1511,1186L1512.75,1186"/><path d="M1512.75,1186L1514.5,1186"/><path d="M1514.5,1186L1516,1186"/><path d="M1516,1186L1517.75,1186"/><path d="M1517.75,1186L1519.5,1186"/><path d="M1519.5,1186L1521.25,1186"/><path d="M1521.25,1186L1523,1186"/><path d="M1523,1186L1524.5,1186"/><path d="M1524.5,1186L1526.25,1186"/><path d="M1526.25,1186L1528,1186"/><path d="M1528,1186L1529.75,1186"/><path d="M1529.75,1186L1531.5,1186"/><path d="M1531.5,1186L1533,1186"/><path d="M1533,1186L1534.75,1186"/><path d="M1534.75,1186L1536.5,1186"/><path d="M1536.5,1186L1538.25,1186"/><path d="M1538.25,1186L1540,1186"/><path d="M1540,1186L1541.75,1186"/><path d="M1541.75,1186L1543.25,1186"/><path d="M1543.25,1186L1545,1186"/><path d="M1545,1186L1546.75,1186"/><path d="M1546.75,1186L1548.5,1186"/><path d="M1548.5,1186L1550.25,1186"/><path d="M1550.25,1186L1551.75,1186"/><path d="M1551.75,1186L1553.5,1186"/><path d="M1553.5,1186L1555.25,1186"/><path d="M1555.25,1186L1557,1186"/><path d="M1557,1186L1558.75,1186"/><path d="M1558.75,1186L1560.5,1186"/><path d="M1560.5,1186L1562,1186"/><path d="M1562,1186L1563.75,1186"/><path d="M1563.75,1186L1565.5,1186"/><path d="M1565.5,1186L1567.25,1186"/><path d="M1567.25,1186L1569,1186"/><path d="M1569,1186L1570.5,1186"/><path d="M1570.5,1186L1572.25,1186"/><path d="M1572.25,1186L1574,1186"/><path d="M1574,1186L1575.75,1186"/><path d="M1575.75,1186L1577.5,1186"/><path d="M1577.5,1186L1579,1186"/><path d="M1579,1186L1580.75,1186"/><path d="M1580.75,1186L1582.5,1186"/><path d="M1582.5,1186L1584.25,1186"/><path d="M1584.25,1186L1586,1186"/><path d="M1586,1186L1587.75,1186"/><path d="M1587.75,1186L1589.25,1186"/><path d="M1589.25,1186L1591,1186"/><path d="M1591,1186L1592.75,1186"/><path d="M1592.75,1186L1594.5,1186"/><path d="M1594.5,1186L1596.25,1186"/><path d="M1596.25,1186L1597.75,1186"/><path d="M1597.75,1186L1599.5,1186"/><path d="M1599.5,1186L1601.25,1186"/><path d="M1601.25,1186L1603,1186"/><path d="M1603,1186L1604.75,1186"/><path d="M1604.75,1186L1606.25,1186"/><path d="M1606.25,1186L1608,1186"/><path d="M1608,1186L1609.75,1186"/><path d="M1609.75,1186L1611.5,1186"/><path d="M1611.5,1186L1613.25,1186"/><path d="M1613.25,1186L1615,1186"/><path d="M1615,1186L1616.5,1186"/><path d="M1616.5,1186L1618.25,1186"/><path d="M1618.25,1186L1620,1186"/><path d="M1620,1186L1621.75,1186"/><path d="M1621.75,1186L1623.5,1186"/><path d="M1623.5,1186L1625,1186"/><path d="M1625,1186L1626.75,1186"/><path d="M1626.75,1186L1628.5,1186"/><path d="M1628.5,1186L1630.25,1186"/><path d="M1630.25,1186L1632,1186"/><path d="M1632,1186L1633.75,1186"/><path d="M1633.75,1186L1635.25,1186"/><path d="M1635.25,1186L1637,1186"/><path d="M1637,1186L1638.75,1186"/><path d="M1638.75,1186L1640.5,1186"/><path d="M1640.5,1186L1642.25,1186"/><path d="M1642.25,1186L1643.75,1186"/><path d="M1643.75,1186L1645.5,1186"/><path d="M1645.5,1186L1647.25,1186"/><path d="M1647.25,1186L1649,1186"/><path d="M1649,1186L1650.75,1186"/><path d="M1650.75,1186L1652.25,1186"/><path d="M1652.25,1186L1654,1186"/><path d="M1654,1186L1655.75,1186"/><path d="M1655.75,1186L1657.5,1186"/><path d="M1657.5,1186L1659.25,1186"/><path d="M1659.25,1186L1661,1186"/><path d="M1661,1186L1662.5,1186"/><path d="M1662.5,1186L1664.25,1186"/><path d="M1664.25,1186L1666,1186"/><path d="M1666,1186L1667.75,1186"/><path d="M1667.75,1186L1669.5,1186"/><path d="M1669.5,1186L1671,1186"/><path d="M1671,1186L1672.75,1186"/><path d="M1672.75,1186L1674.5,1186"/><path d="M1674.5,1186L1676.25,1186"/><path d="M1676.25,1186L1678,1186"/><path d="M1678,1186L1679.5,1186"/><path d="M1679.5,1186L1681.25,1186"/><path d="M1681.25,1186L1683,1186"/><path d="M1683,1186L1684.75,1186"/><path d="M1684.75,1186L1686.5,1186"/><path d="M1686.5,1186L1688.25,1186"/><path d="M1688.25,1186L1689.75,1186"/><path d="M1689.75,1186L1691.5,1186"/><path d="M1691.5,1186L1693.25,1186"/><path d="M1693.25,1186L1695,1186"/><path d="M1695,1186L1696.75,1186"/><path d="M1696.75,1186L1698.25,1186"/><path d="M1698.25,1186L1700,1186"/><path d="M1700,1186L1701.75,1186"/><path d="M1701.75,1186L1703.5,1186"/><path d="M1703.5,1186L1705.25,1186"/><path d="M1705.25,1186L1707,1186"/><path d="M1707,1186L1708.5,1186"/><path d="M1708.5,1186L1710.25,1186"/><path d="M1710.25,1186L1712,1186"/><path d="M1712,1186L1713.75,1186"/><path d="M1713.75,1186L1715.5,1186"/><path d="M1715.5,1186L1717,1186"/><path d="M1717,1186L1718.75,1186"/><path d="M1718.75,1186L1720.5,1186"/><path d="M1720.5,1186L1722.25,1186"/><path d="M1722.25,1186L1724,1186"/><path d="M1724,1186L1725.5,1186"/><path d="M1725.5,1186L1727.25,1186"/><path d="M1727.25,1186L1729,1186"/><path d="M1729,1186L1730.75,1186"/><path d="M1730.75,1186L1732.5,1186"/><path d="M1732.5,1186L1734.25,1186"/><path d="M1734.25,1186L1735.75,1186"/><path d="M1735.75,1186L1737.5,1186"/><path d="M1737.5,1186L1739.25,1186"/><path d="M1739.25,1186L1741,1186"/><path d="M1741,1186L1742.75,1186"/><path d="M1742.75,1186L1744.25,1186"/><path d="M1744.25,1186L1746,1186"/><path d="M1746,1186L1747.75,1186"/><path d="M1747.75,1186L1749.5,1186"/><path d="M1749.5,1186L1751.25,1186"/><path d="M1751.25,1186L1752.75,1186"/><path d="M1752.75,1186L1754.5,1186"/><path d="M1754.5,1186L1756.25,1186"/><path d="M1756.25,1186L1758,1186"/><path d="M1758,1186L1759.75,1186"/><path d="M1759.75,1186L1761.5,1186"/><path d="M1761.5,1186L1763,1186"/><path d="M1763,1186L1764.75,1186"/><path d="M1764.75,1186L1766.5,1186"/><path d="M1766.5,1186L1768.25,1186"/><path d="M1768.25,1186L1770,1186"/><path d="M1770,1186L1771.5,1186"/><path d="M1771.5,1186L1773.25,1186"/><path d="M1773.25,1186L1775,1186"/><path d="M1775,1186L1776.75,1186"/><path d="M1776.75,1186L1778.5,1186"/><path d="M1778.5,1186L1780,1186"/><path d="M1780,1186L1781.75,1186"/><path d="M1781.75,1186L1783.5,1186"/><path d="M1783.5,1186L1785.25,1186"/><path d="M1785.25,1186L1787,1186"/><path d="M1787,1186L1788.75,1186"/><path d="M1788.75,1186L1790.25,1186"/><path d="M1790.25,1186L1792,1186"/><path d="M1792,1186L1793.75,1186"/><path d="M1793.75,1186L1795.5,1186"/><path d="M1795.5,1186L1797.25,1186"/><path d="M1797.25,1186L1798.75,1186"/><path d="M1798.75,1186L1800.5,1186"/><path d="M1800.5,1186L1802.25,1186"/><path d="M1802.25,1186L1804,1186"/><path d="M1804,1186L1805.75,1186"/><path d="M1805.75,1186L1807.5,1186"/><path d="M1807.5,1186L1809,1186"/><path d="M1809,1186L1810.75,1186"/><path d="M1810.75,1186L1812.5,1186"/><path d="M1812.5,1186L1814.25,1186"/><path d="M1814.25,1186L1816,1186"/><path d="M1816,1186L1817.5,1186"/></g>
<g id="slow" stroke="#37AD6B" stroke-width="11.5"><path d="M284.5,1185.75L286.25,1185.75"/><path d="M286.25,1185.75L288,1185.75"/><path d="M288,1185.75L289.5,1185.75"/><path d="M289.5,1185.75L291.25,1185.75"/><path d="M291.25,1185.75L293,1185.75"/><path d="M293,1185.75L294.75,1185.75"/><path d="M294.75,1185.75L296.5,1185.75"/><path d="M296.5,1185.75L298.25,1185.75"/><path d="M298.25,1185.75L299.75,1185.75"/><path d="M299.75,1185.75L301.5,1185.75"/><path d="M301.5,1185.75L303.25,1185.75"/><path d="M303.25,1185.75L305,1185.75"/><path d="M305,1185.75L306.75,1185.75"/><path d="M306.75,1185.75L308.25,1185.75"/><path d="M308.25,1185.75L310,1185.75"/><path d="M310,1185.75L311.75,1185.75"/><path d="M311.75,1185.75L313.5,1185.75"/><path d="M313.5,1185.75L315.25,1185.75"/><path d="M315.25,1185.75L316.75,1185.75"/><path d="M316.75,1185.75L318.5,1185.75"/><path d="M318.5,1185.75L320.25,1185.75"/><path d="M320.25,1185.75L322,1185.75"/><path d="M322,1185.75L323.75,1185.5"/><path d="M323.75,1185.5L325.5,1185.5"/><path d="M325.5,1185.5L327,1185.5"/><path d="M327,1185.5L328.75,1185.5"/><path d="M328.75,1185.5L330.5,1185.5"/><path d="M330.5,1185.5L332.25,1185.5"/><path d="M332.25,1185.5L334,1185.5"/><path d="M334,1185.5L335.5,1185.5"/><path d="M335.5,1185.5L337.25,1185.5"/><path d="M337.25,1185.5L339,1185.5"/><path d="M339,1185.5L340.75,1185.5"/><path d="M340.75,1185.5L342.5,1185.25"/><path d="M342.5,1185.25L344,1185.25"/><path d="M344,1185.25L345.75,1185.25"/><path d="M345.75,1185.25L347.5,1185.25"/><path d="M347.5,1185.25L349.25,1185.25"/><path d="M349.25,1185.25L351,1185.25"/><path d="M351,1185.25L352.75,1185.25"/><path d="M352.75,1185.25L354.25,1185"/><path d="M354.25,1185L356,1185"/><path d="M356,1185L357.75,1185"/><path d="M357.75,1185L359.5,1185"/><path d="M359.5,1185L361.25,1184.75"/><path d="M361.25,1184.75L362.75,1184.75"/><path d="M362.75,1184.75L364.5,1184.75"/><path d="M364.5,1184.75L366.25,1184.5"/><path d="M366.25,1184.5L368,1184.5"/><path d="M368,1184.5L369.75,1184.5"/><path d="M369.75,1184.5L371.5,1184.25"/><path d="M371.5,1184.25L373,1184.25"/><path d="M373,1184.25L374.75,1184"/><path d="M374.75,1184L376.5,1184"/><path d="M376.5,1184L378.25,1183.75"/><path d="M378.25,1183.75L380,1183.75"/><path d="M380,1183.75L381.5,1183.5"/><path d="M381.5,1183.5L383.25,1183.5"/><path d="M383.25,1183.5L385,1183.25"/><path d="M385,1183.25L386.75,1183.25"/><path d="M386.75,1183.25L388.5,1183"/><path d="M388.5,1183L390,1182.75"/><path d="M390,1182.75L391.75,1182.75"/><path d="M391.75,1182.75L393.5,1182.5"/><path d="M393.5,1182.5L395.25,1182.25"/><path d="M395.25,1182.25L397,1182.25"/><path d="M397,1182.25L398.75,1182"/><path d="M398.75,1182L400.25,1181.75"/><path d="M400.25,1181.75L402,1181.5"/><path d="M402,1181.5L403.75,1181.25"/><path d="M403.75,1181.25L405.5,1181"/><path d="M405.5,1181L407.25,1180.75"/><path d="M407.25,1180.75L408.75,1180.5"/><path d="M408.75,1180.5L410.5,1180.25"/><path d="M410.5,1180.25L412.25,1180"/><path d="M412.25,1180L414,1179.75"/><path d="M414,1179.75L415.75,1179.5"/><path d="M415.75,1179.5L417.25,1179.25"/><path d="M417.25,1179.25L419,1179"/><path d="M419,1179L420.75,1178.75"/><path d="M420.75,1178.75L422.5,1178.25"/><path d="M422.5,1178.25L424.25,1178"/><path d="M424.25,1178L426,1177.75"/><path d="M426,1177.75L427.5,1177.25"/><path d="M427.5,1177.25L429.25,1177"/><path d="M429.25,1177L431,1176.5"/><path d="M431,1176.5L432.75,1176.25"/><path d="M432.75,1176.25L434.5,1175.75"/><path d="M434.5,1175.75L436,1175.25"/><path d="M436,1175.25L437.75,1175"/><path d="M437.75,1175L439.5,1174.5"/><path d="M439.5,1174.5L441.25,1174"/><path d="M441.25,1174L443,1173.5"/><path d="M443,1173.5L444.5,1173"/><path d="M444.5,1173L446.25,1172.5"/><path d="M446.25,1172.5L448,1172"/><path d="M448,1172L449.75,1171.5"/><path d="M449.75,1171.5L451.5,1171"/><path d="M451.5,1171L453.25,1170.5"/><path d="M453.25,1170.5L454.75,1170"/><path d="M454.75,1170L456.5,1169.25"/><path d="M456.5,1169.25L458.25,1168.75"/><path d="M458.25,1168.75L460,1168"/><path d="M460,1168L461.75,1167.5"/><path d="M461.75,1167.5L463.25,1166.75"/><path d="M463.25,1166.75L465,1166.25"/><path d="M465,1166.25L466.75,1165.5"/><path d="M466.75,1165.5L468.5,1164.75"/><path d="M468.5,1164.75L470.25,1164"/><path d="M470.25,1164L472,1163.25"/><path d="M472,1163.25L473.5,1162.5"/><path d="M473.5,1162.5L475.25,1161.75"/><path d="M475.25,1161.75L477,1161"/><path d="M477,1161L478.75,1160.25"/><path d="M478.75,1160.25L480.5,1159.25"/><path d="M480.5,1159.25L482,1158.5"/><path d="M482,1158.5L483.75,1157.5"/><path d="M483.75,1157.5L485.5,1156.75"/><path d="M485.5,1156.75L487.25,1155.75"/><path d="M487.25,1155.75L489,1154.75"/><path d="M489,1154.75L490.5,1153.75"/><path d="M490.5,1153.75L492.25,1152.75"/><path d="M492.25,1152.75L494,1151.75"/><path d="M494,1151.75L495.75,1150.75"/><path d="M495.75,1150.75L497.5,1149.75"/><path d="M497.5,1149.75L499.25,1148.5"/><path d="M499.25,1148.5L500.75,1147.5"/><path d="M500.75,1147.5L502.5,1146.25"/><path d="M502.5,1146.25L504.25,1145.25"/><path d="M504.25,1145.25L506,1144"/><path d="M506,1144L507.75,1142.75"/><path d="M507.75,1142.75L509.25,1141.5"/><path d="M509.25,1141.5L511,1140.25"/><path d="M511,1140.25L512.75,1139"/><path d="M512.75,1139L514.5,1137.75"/><path d="M514.5,1137.75L516.25,1136.5"/><path d="M516.25,1136.5L517.75,1135"/><path d="M517.75,1135L519.5,1133.75"/><path d="M519.5,1133.75L521.25,1132.25"/><path d="M521.25,1132.25L523,1130.75"/><path d="M523,1130.75L524.75,1129.5"/><path d="M524.75,1129.5L526.5,1128"/><path d="M526.5,1128L528,1126.5"/><path d="M528,1126.5L529.75,1125"/><path d="M529.75,1125L531.5,1123.5"/><path d="M531.5,1123.5L533.25,1121.75"/><path d="M533.25,1121.75L535,1120.25"/><path d="M535,1120.25L536.5,1118.75"/><path d="M536.5,1118.75L538.25,1117"/><path d="M538.25,1117L540,1115.25"/><path d="M540,1115.25L541.75,1113.5"/><path d="M541.75,1113.5L543.5,1112"/><path d="M543.5,1112L545.25,1110.25"/><path d="M545.25,1110.25L546.75,1108.5"/><path d="M546.75,1108.5L548.5,1106.5"/><path d="M548.5,1106.5L550.25,1104.75"/><path d="M550.25,1104.75L552,1103"/><path d="M552,1103L553.75,1101"/><path d="M553.75,1101L555.25,1099.25"/><path d="M555.25,1099.25L557,1097.25"/><path d="M557,1097.25L558.75,1095.25"/><path d="M558.75,1095.25L560.5,1093.5"/><path d="M560.5,1093.5L562.25,1091.5"/><path d="M562.25,1091.5L563.75,1089.5"/><path d="M563.75,1089.5L565.5,1087.5"/><path d="M565.5,1087.5L567.25,1085.25"/><path d="M567.25,1085.25L569,1083.25"/><path d="M569,1083.25L570.75,1081.25"/><path d="M570.75,1081.25L572.5,1079"/><path d="M572.5,1079L574,1077"/><path d="M574,1077L575.75,1074.75"/><path d="M575.75,1074.75L577.5,1072.75"/><path d="M577.5,1072.75L579.25,1070.5"/><path d="M579.25,1070.5L581,1068.25"/><path d="M581,1068.25L582.5,1066"/><path d="M582.5,1066L584.25,1063.75"/><path d="M584.25,1063.75L586,1061.5"/><path d="M586,1061.5L587.75,1059.25"/><path d="M587.75,1059.25L589.5,1057"/><path d="M589.5,1057L591,1054.5"/><path d="M591,1054.5L592.75,1052.25"/><path d="M592.75,1052.25L594.5,1049.75"/><path d="M594.5,1049.75L596.25,1047.5"/><path d="M596.25,1047.5L598,1045"/><path d="M598,1045L599.75,1042.75"/><path d="M599.75,1042.75L601.25,1040.25"/><path d="M601.25,1040.25L603,1037.75"/><path d="M603,1037.75L604.75,1035.25"/><path d="M604.75,1035.25L606.5,1033"/><path d="M606.5,1033L608.25,1030.5"/><path d="M608.25,1030.5L609.75,1028"/><path d="M609.75,1028L611.5,1025.5"/><path d="M611.5,1025.5L613.25,1023"/><path d="M613.25,1023L615,1020.25"/><path d="M615,1020.25L616.75,1017.75"/><path d="M616.75,1017.75L618.5,1015.25"/><path d="M618.5,1015.25L620,1012.75"/><path d="M620,1012.75L621.75,1010.25"/><path d="M621.75,1010.25L623.5,1007.5"/><path d="M623.5,1007.5L625.25,1005"/><path d="M625.25,1005L627,1002.5"/><path d="M627,1002.5L628.5,1000"/><path d="M628.5,1000L630.25,997.25"/><path d="M630.25,997.25L632,994.75"/><path d="M632,994.75L633.75,992"/><path d="M633.75,992L635.5,989.5"/><path d="M635.5,989.5L637,987"/><path d="M637,987L638.75,984.25"/><path d="M638.75,984.25L640.5,981.75"/><path d="M640.5,981.75L642.25,979"/><path d="M642.25,979L644,976.5"/><path d="M644,976.5L645.75,973.75"/><path d="M645.75,973.75L647.25,971.25"/><path d="M647.25,971.25L649,968.75"/><path d="M649,968.75L650.75,966"/><path d="M650.75,966L652.5,963.5"/><path d="M652.5,963.5L654.25,960.75"/><path d="M654.25,960.75L655.75,958.25"/><path d="M655.75,958.25L657.5,955.75"/><path d="M657.5,955.75L659.25,953"/><path d="M659.25,953L661,950.5"/><path d="M661,950.5L662.75,948"/><path d="M662.75,948L664.25,945.5"/><path d="M664.25,945.5L666,942.75"/><path d="M666,942.75L667.75,940.25"/><path d="M667.75,940.25L669.5,937.75"/><path d="M669.5,937.75L671.25,935.25"/><path d="M671.25,935.25L673,932.75"/><path d="M673,932.75L674.5,930.25"/><path d="M674.5,930.25L676.25,927.75"/><path d="M676.25,927.75L678,925.25"/><path d="M678,925.25L679.75,923"/><path d="M679.75,923L681.5,920.5"/><path d="M681.5,920.5L683,918"/><path d="M683,918L684.75,915.75"/><path d="M684.75,915.75L686.5,913.25"/><path d="M686.5,913.25L688.25,911"/><path d="M688.25,911L690,908.5"/><path d="M690,908.5L691.5,906.25"/><path d="M691.5,906.25L693.25,904"/><path d="M693.25,904L695,901.75"/><path d="M695,901.75L696.75,899.25"/><path d="M696.75,899.25L698.5,897"/><path d="M698.5,897L700.25,894.75"/><path d="M700.25,894.75L701.75,892.75"/><path d="M701.75,892.75L703.5,890.5"/><path d="M703.5,890.5L705.25,888.25"/><path d="M705.25,888.25L707,886.25"/><path d="M707,886.25L708.75,884"/><path d="M708.75,884L710.25,882"/><path d="M710.25,882L712,880"/><path d="M712,880L713.75,877.75"/><path d="M713.75,877.75L715.5,875.75"/><path d="M715.5,875.75L717.25,873.75"/><path d="M717.25,873.75L719,872"/><path d="M719,872L720.5,870"/><path d="M720.5,870L722.25,868"/><path d="M722.25,868L724,866.25"/><path d="M724,866.25L725.75,864.25"/><path d="M725.75,864.25L727.5,862.5"/><path d="M727.5,862.5L729,860.75"/><path d="M729,860.75L730.75,859"/><path d="M730.75,859L732.5,857.25"/><path d="M732.5,857.25L734.25,855.5"/><path d="M734.25,855.5L736,853.75"/><path d="M736,853.75L737.5,852"/><path d="M737.5,852L739.25,850.5"/><path d="M739.25,850.5L741,848.75"/><path d="M741,848.75L742.75,847.25"/><path d="M742.75,847.25L744.5,845.75"/><path d="M744.5,845.75L746.25,844.25"/><path d="M746.25,844.25L747.75,842.75"/><path d="M747.75,842.75L749.5,841.25"/><path d="M749.5,841.25L751.25,840"/><path d="M751.25,840L753,838.5"/><path d="M753,838.5L754.75,837.25"/><path d="M754.75,837.25L756.25,835.75"/><path d="M756.25,835.75L758,834.5"/><path d="M758,834.5L759.75,833.25"/><path d="M759.75,833.25L761.5,832"/><path d="M761.5,832L763.25,830.75"/><path d="M763.25,830.75L764.75,829.75"/><path d="M764.75,829.75L766.5,828.5"/><path d="M766.5,828.5L768.25,827.5"/><path d="M768.25,827.5L770,826.25"/><path d="M770,826.25L771.75,825.25"/><path d="M771.75,825.25L773.5,824.25"/><path d="M773.5,824.25L775,823.25"/><path d="M775,823.25L776.75,822.25"/><path d="M776.75,822.25L778.5,821.25"/><path d="M778.5,821.25L780.25,820.5"/><path d="M780.25,820.5L782,819.5"/><path d="M782,819.5L783.5,818.75"/><path d="M783.5,818.75L785.25,818"/><path d="M785.25,818L787,817"/><path d="M787,817L788.75,816.25"/><path d="M788.75,816.25L790.5,815.75"/><path d="M790.5,815.75L792.25,815"/><path d="M792.25,815L793.75,814.25"/><path d="M793.75,814.25L795.5,813.5"/><path d="M795.5,813.5L797.25,813"/><path d="M797.25,813L799,812.5"/><path d="M799,812.5L800.75,811.75"/><path d="M800.75,811.75L802.25,811.25"/><path d="M802.25,811.25L804,810.75"/><path d="M804,810.75L805.75,810.25"/><path d="M805.75,810.25L807.5,809.75"/><path d="M807.5,809.75L809.25,809.5"/><path d="M809.25,809.5L810.75,809"/><path d="M810.75,809L812.5,808.75"/><path d="M812.5,808.75L814.25,808.25"/><path d="M814.25,808.25L816,808"/><path d="M816,808L817.75,807.75"/><path d="M817.75,807.75L819.5,807.5"/><path d="M819.5,807.5L821,807.25"/><path d="M821,807.25L822.75,807"/><path d="M822.75,807L824.5,806.75"/><path d="M824.5,806.75L826.25,806.5"/><path d="M826.25,806.5L828,806.25"/><path d="M828,806.25L829.5,806.25"/><path d="M829.5,806.25L831.25,806"/><path d="M831.25,806L833,806"/><path d="M833,806L834.75,806"/><path d="M834.75,806L836.5,805.75"/><path d="M836.5,805.75L838,805.75"/><path d="M838,805.75L839.75,805.75"/><path d="M839.75,805.75L841.5,805.75"/><path d="M841.5,805.75L843.25,805.75"/><path d="M843.25,805.75L845,805.75"/><path d="M845,805.75L846.75,806"/><path d="M846.75,806L848.25,806"/><path d="M848.25,806L850,806"/><path d="M850,806L851.75,806.25"/><path d="M851.75,806.25L853.5,806.25"/><path d="M853.5,806.25L855.25,806.5"/><path d="M855.25,806.5L856.75,806.75"/><path d="M856.75,806.75L858.5,806.75"/><path d="M858.5,806.75L860.25,807"/><path d="M860.25,807L862,807.25"/><path d="M862,807.25L863.75,807.5"/><path d="M863.75,807.5L865.25,807.75"/><path d="M865.25,807.75L867,808"/><path d="M867,808L868.75,808.25"/><path d="M868.75,808.25L870.5,808.5"/><path d="M870.5,808.5L872.25,808.75"/><path d="M872.25,808.75L874,809"/><path d="M874,809L875.5,809.5"/><path d="M875.5,809.5L877.25,809.75"/><path d="M877.25,809.75L879,810"/><path d="M879,810L880.75,810.5"/><path d="M880.75,810.5L882.5,810.75"/><path d="M882.5,810.75L884,811.25"/><path d="M884,811.25L885.75,811.5"/><path d="M885.75,811.5L887.5,812"/><path d="M887.5,812L889.25,812.5"/><path d="M889.25,812.5L891,812.75"/><path d="M891,812.75L892.75,813.25"/><path d="M892.75,813.25L894.25,813.75"/><path d="M894.25,813.75L896,814.25"/><path d="M896,814.25L897.75,814.5"/><path d="M897.75,814.5L899.5,815"/><path d="M899.5,815L901.25,815.5"/><path d="M901.25,815.5L902.75,816"/><path d="M902.75,816L904.5,816.5"/><path d="M904.5,816.5L906.25,817"/><path d="M906.25,817L908,817.5"/><path d="M908,817.5L909.75,818"/><path d="M909.75,818L911.25,818.5"/><path d="M911.25,818.5L913,819"/><path d="M913,819L914.75,819.75"/><path d="M914.75,819.75L916.5,820.25"/><path d="M916.5,820.25L918.25,820.75"/><path d="M918.25,820.75L920,821.25"/><path d="M920,821.25L921.5,821.75"/><path d="M921.5,821.75L923.25,822.5"/><path d="M923.25,822.5L925,823"/><path d="M925,823L926.75,823.5"/><path d="M926.75,823.5L928.5,824"/><path d="M928.5,824L930,824.75"/><path d="M930,824.75L931.75,825.25"/><path d="M931.75,825.25L933.5,825.75"/><path d="M933.5,825.75L935.25,826.5"/><path d="M935.25,826.5L937,827"/><path d="M937,827L938.5,827.75"/><path d="M938.5,827.75L940.25,828.25"/><path d="M940.25,828.25L942,829"/><path d="M942,829L943.75,829.5"/><path d="M943.75,829.5L945.5,830"/><path d="M945.5,830L947.25,830.75"/><path d="M947.25,830.75L948.75,831.25"/><path d="M948.75,831.25L950.5,832"/><path d="M950.5,832L952.25,832.5"/><path d="M952.25,832.5L954,833.25"/><path d="M954,833.25L955.75,833.75"/><path d="M955.75,833.75L957.25,834.5"/><path d="M957.25,834.5L959,835"/><path d="M959,835L960.75,835.75"/><path d="M960.75,835.75L962.5,836.5"/><path d="M962.5,836.5L964.25,837"/><path d="M964.25,837L966,837.75"/><path d="M966,837.75L967.5,838.25"/><path d="M967.5,838.25L969.25,839"/><path d="M969.25,839L971,839.5"/><path d="M971,839.5L972.75,840.25"/><path d="M972.75,840.25L974.5,841"/><path d="M974.5,841L976,841.5"/><path d="M976,841.5L977.75,842.25"/><path d="M977.75,842.25L979.5,842.75"/><path d="M979.5,842.75L981.25,843.5"/><path d="M981.25,843.5L983,844.25"/><path d="M983,844.25L984.5,844.75"/><path d="M984.5,844.75L986.25,845.5"/><path d="M986.25,845.5L988,846"/><path d="M988,846L989.75,846.75"/><path d="M989.75,846.75L991.5,847.5"/><path d="M991.5,847.5L993.25,848"/><path d="M993.25,848L994.75,848.75"/><path d="M994.75,848.75L996.5,849.5"/><path d="M996.5,849.5L998.25,850"/><path d="M998.25,850L1000,850.75"/><path d="M1000,850.75L1001.75,851.25"/><path d="M1001.75,851.25L1003.25,852"/><path d="M1003.25,852L1005,852.75"/><path d="M1005,852.75L1006.75,853.25"/><path d="M1006.75,853.25L1008.5,854"/><path d="M1008.5,854L1010.25,854.5"/><path d="M1010.25,854.5L1011.75,855.25"/><path d="M1011.75,855.25L1013.5,856"/><path d="M1013.5,856L1015.25,856.5"/><path d="M1015.25,856.5L1017,857.25"/><path d="M1017,857.25L1018.75,857.75"/><path d="M1018.75,857.75L1020.5,858.5"/><path d="M1020.5,858.5L1022,859.25"/><path d="M1022,859.25L1023.75,859.75"/><path d="M1023.75,859.75L1025.5,860.5"/><path d="M1025.5,860.5L1027.25,861"/><path d="M1027.25,861L1029,861.75"/><path d="M1029,861.75L1030.5,862.5"/><path d="M1030.5,862.5L1032.25,863"/><path d="M1032.25,863L1034,863.75"/><path d="M1034,863.75L1035.75,864.25"/><path d="M1035.75,864.25L1037.5,865"/><path d="M1037.5,865L1039.25,865.5"/><path d="M1039.25,865.5L1040.75,866.25"/><path d="M1040.75,866.25L1042.5,867"/><path d="M1042.5,867L1044.25,867.5"/><path d="M1044.25,867.5L1046,868.25"/><path d="M1046,868.25L1047.75,868.75"/><path d="M1047.75,868.75L1049.25,869.5"/><path d="M1049.25,869.5L1051,870"/><path d="M1051,870L1052.75,870.75"/><path d="M1052.75,870.75L1054.5,871.25"/><path d="M1054.5,871.25L1056.25,872"/><path d="M1056.25,872L1057.75,872.5"/><path d="M1057.75,872.5L1059.5,873.25"/><path d="M1059.5,873.25L1061.25,873.75"/><path d="M1061.25,873.75L1063,874.5"/><path d="M1063,874.5L1064.75,875.25"/><path d="M1064.75,875.25L1066.5,875.75"/><path d="M1066.5,875.75L1068,876.5"/><path d="M1068,876.5L1069.75,877"/><path d="M1069.75,877L1071.5,877.75"/><path d="M1071.5,877.75L1073.25,878.25"/><path d="M1073.25,878.25L1075,878.75"/><path d="M1075,878.75L1076.5,879.5"/><path d="M1076.5,879.5L1078.25,880"/><path d="M1078.25,880L1080,880.75"/><path d="M1080,880.75L1081.75,881.25"/><path d="M1081.75,881.25L1083.5,882"/><path d="M1083.5,882L1085,882.5"/><path d="M1085,882.5L1086.75,883.25"/><path d="M1086.75,883.25L1088.5,883.75"/><path d="M1088.5,883.75L1090.25,884.5"/><path d="M1090.25,884.5L1092,885"/><path d="M1092,885L1093.75,885.5"/><path d="M1093.75,885.5L1095.25,886.25"/><path d="M1095.25,886.25L1097,886.75"/><path d="M1097,886.75L1098.75,887.5"/><path d="M1098.75,887.5L1100.5,888"/><path d="M1100.5,888L1102.25,888.75"/><path d="M1102.25,888.75L1103.75,889.25"/><path d="M1103.75,889.25L1105.5,889.75"/><path d="M1105.5,889.75L1107.25,890.5"/><path d="M1107.25,890.5L1109,891"/><path d="M1109,891L1110.75,891.75"/><path d="M1110.75,891.75L1112.25,892.25"/><path d="M1112.25,892.25L1114,892.75"/><path d="M1114,892.75L1115.75,893.5"/><path d="M1115.75,893.5L1117.5,894"/><path d="M1117.5,894L1119.25,894.5"/><path d="M1119.25,894.5L1121,895.25"/><path d="M1121,895.25L1122.5,895.75"/><path d="M1122.5,895.75L1124.25,896.25"/><path d="M1124.25,896.25L1126,897"/><path d="M1126,897L1127.75,897.5"/><path d="M1127.75,897.5L1129.5,898.25"/><path d="M1129.5,898.25L1131,898.75"/><path d="M1131,898.75L1132.75,899.25"/><path d="M1132.75,899.25L1134.5,899.75"/><path d="M1134.5,899.75L1136.25,900.5"/><path d="M1136.25,900.5L1138,901"/><path d="M1138,901L1139.75,901.5"/><path d="M1139.75,901.5L1141.25,902.25"/><path d="M1141.25,902.25L1143,902.75"/><path d="M1143,902.75L1144.75,903.25"/><path d="M1144.75,903.25L1146.5,904"/><path d="M1146.5,904L1148.25,904.5"/><path d="M1148.25,904.5L1149.75,905"/><path d="M1149.75,905L1151.5,905.5"/><path d="M1151.5,905.5L1153.25,906.25"/><path d="M1153.25,906.25L1155,906.75"/><path d="M1155,906.75L1156.75,907.25"/><path d="M1156.75,907.25L1158.25,908"/><path d="M1158.25,908L1160,908.5"/><path d="M1160,908.5L1161.75,909"/><path d="M1161.75,909L1163.5,909.5"/><path d="M1163.5,909.5L1165.25,910"/><path d="M1165.25,910L1167,910.75"/><path d="M1167,910.75L1168.5,911.25"/><path d="M1168.5,911.25L1170.25,911.75"/><path d="M1170.25,911.75L1172,912.25"/><path d="M1172,912.25L1173.75,913"/><path d="M1173.75,913L1175.5,913.5"/><path d="M1175.5,913.5L1177,914"/><path d="M1177,914L1178.75,914.5"/><path d="M1178.75,914.5L1180.5,915"/><path d="M1180.5,915L1182.25,915.75"/><path d="M1182.25,915.75L1184,916.25"/><path d="M1184,916.25L1185.5,916.75"/><path d="M1185.5,916.75L1187.25,917.25"/><path d="M1187.25,917.25L1189,917.75"/><path d="M1189,917.75L1190.75,918.5"/><path d="M1190.75,918.5L1192.5,919"/><path d="M1192.5,919L1194.25,919.5"/><path d="M1194.25,919.5L1195.75,920"/><path d="M1195.75,920L1197.5,920.5"/><path d="M1197.5,920.5L1199.25,921"/><path d="M1199.25,921L1201,921.5"/><path d="M1201,921.5L1202.75,922.25"/><path d="M1202.75,922.25L1204.25,922.75"/><path d="M1204.25,922.75L1206,923.25"/><path d="M1206,923.25L1207.75,923.75"/><path d="M1207.75,923.75L1209.5,924.25"/><path d="M1209.5,924.25L1211.25,924.75"/><path d="M1211.25,924.75L1213,925.25"/><path d="M1213,925.25L1214.5,926"/><path d="M1214.5,926L1216.25,926.5"/><path d="M1216.25,926.5L1218,927"/><path d="M1218,927L1219.75,927.5"/><path d="M1219.75,927.5L1221.5,928"/><path d="M1221.5,928L1223,928.5"/><path d="M1223,928.5L1224.75,929"/><path d="M1224.75,929L1226.5,929.5"/><path d="M1226.5,929.5L1228.25,930"/><path d="M1228.25,930L1230,930.5"/><path d="M1230,930.5L1231.5,931"/><path d="M1231.5,931L1233.25,931.5"/><path d="M1233.25,931.5L1235,932.25"/><path d="M1235,932.25L1236.75,932.75"/><path d="M1236.75,932.75L1238.5,933.25"/><path d="M1238.5,933.25L1240.25,933.75"/><path d="M1240.25,933.75L1241.75,934.25"/><path d="M1241.75,934.25L1243.5,934.75"/><path d="M1243.5,934.75L1245.25,935.25"/><path d="M1245.25,935.25L1247,935.75"/><path d="M1247,935.75L1248.75,936.25"/><path d="M1248.75,936.25L1250.25,936.75"/><path d="M1250.25,936.75L1252,937.25"/><path d="M1252,937.25L1253.75,937.75"/><path d="M1253.75,937.75L1255.5,938.25"/><path d="M1255.5,938.25L1257.25,938.75"/><path d="M1257.25,938.75L1258.75,939.25"/><path d="M1258.75,939.25L1260.5,939.75"/><path d="M1260.5,939.75L1262.25,940.25"/><path d="M1262.25,940.25L1264,940.75"/><path d="M1264,940.75L1265.75,941.25"/><path d="M1265.75,941.25L1267.5,941.75"/><path d="M1267.5,941.75L1269,942.25"/><path d="M1269,942.25L1270.75,942.75"/><path d="M1270.75,942.75L1272.5,943.25"/><path d="M1272.5,943.25L1274.25,943.75"/><path d="M1274.25,943.75L1276,944.25"/><path d="M1276,944.25L1277.5,944.75"/><path d="M1277.5,944.75L1279.25,945.25"/><path d="M1279.25,945.25L1281,945.75"/><path d="M1281,945.75L1282.75,946.25"/><path d="M1282.75,946.25L1284.5,946.75"/><path d="M1284.5,946.75L1286.25,947"/><path d="M1286.25,947L1287.75,947.5"/><path d="M1287.75,947.5L1289.5,948"/><path d="M1289.5,948L1291.25,948.5"/><path d="M1291.25,948.5L1293,949"/><path d="M1293,949L1294.75,949.5"/><path d="M1294.75,949.5L1296.25,950"/><path d="M1296.25,950L1298,950.5"/><path d="M1298,950.5L1299.75,951"/><path d="M1299.75,951L1301.5,951.5"/><path d="M1301.5,951.5L1303.25,952"/><path d="M1303.25,952L1304.75,952.5"/><path d="M1304.75,952.5L1306.5,952.75"/><path d="M1306.5,952.75L1308.25,953.25"/><path d="M1308.25,953.25L1310,953.75"/><path d="M1310,953.75L1311.75,954.25"/><path d="M1311.75,954.25L1313.5,954.75"/><path d="M1313.5,954.75L1315,955.25"/><path d="M1315,955.25L1316.75,955.75"/><path d="M1316.75,955.75L1318.5,956.25"/><path d="M1318.5,956.25L1320.25,956.5"/><path d="M1320.25,956.5L1322,957"/><path d="M1322,957L1323.5,957.5"/><path d="M1323.5,957.5L1325.25,958"/><path d="M1325.25,958L1327,958.5"/><path d="M1327,958.5L1328.75,959"/><path d="M1328.75,959L1330.5,959.5"/><path d="M1330.5,959.5L1332,959.75"/><path d="M1332,959.75L1333.75,960.25"/><path d="M1333.75,960.25L1335.5,960.75"/><path d="M1335.5,960.75L1337.25,961.25"/><path d="M1337.25,961.25L1339,961.75"/><path d="M1339,961.75L1340.75,962"/><path d="M1340.75,962L1342.25,962.5"/><path d="M1342.25,962.5L1344,963"/><path d="M1344,963L1345.75,963.5"/><path d="M1345.75,963.5L1347.5,964"/><path d="M1347.5,964L1349.25,964.5"/><path d="M1349.25,964.5L1350.75,964.75"/><path d="M1350.75,964.75L1352.5,965.25"/><path d="M1352.5,965.25L1354.25,965.75"/><path d="M1354.25,965.75L1356,966.25"/><path d="M1356,966.25L1357.75,966.5"/><path d="M1357.75,966.5L1359.25,967"/><path d="M1359.25,967L1361,967.5"/><path d="M1361,967.5L1362.75,968"/><path d="M1362.75,968L1364.5,968.5"/><path d="M1364.5,968.5L1366.25,968.75"/><path d="M1366.25,968.75L1368,969.25"/><path d="M1368,969.25L1369.5,969.75"/><path d="M1369.5,969.75L1371.25,970.25"/><path d="M1371.25,970.25L1373,970.5"/><path d="M1373,970.5L1374.75,971"/><path d="M1374.75,971L1376.5,971.5"/><path d="M1376.5,971.5L1378,972"/><path d="M1378,972L1379.75,972.25"/><path d="M1379.75,972.25L1381.5,972.75"/><path d="M1381.5,972.75L1383.25,973.25"/><path d="M1383.25,973.25L1385,973.5"/><path d="M1385,973.5L1386.75,974"/><path d="M1386.75,974L1388.25,974.5"/><path d="M1388.25,974.5L1390,975"/><path d="M1390,975L1391.75,975.25"/><path d="M1391.75,975.25L1393.5,975.75"/><path d="M1393.5,975.75L1395.25,976.25"/><path d="M1395.25,976.25L1396.75,976.5"/><path d="M1396.75,976.5L1398.5,977"/><path d="M1398.5,977L1400.25,977.5"/><path d="M1400.25,977.5L1402,978"/><path d="M1402,978L1403.75,978.25"/><path d="M1403.75,978.25L1405.25,978.75"/><path d="M1405.25,978.75L1407,979.25"/><path d="M1407,979.25L1408.75,979.5"/><path d="M1408.75,979.5L1410.5,980"/><path d="M1410.5,980L1412.25,980.5"/><path d="M1412.25,980.5L1414,980.75"/><path d="M1414,980.75L1415.5,981.25"/><path d="M1415.5,981.25L1417.25,981.75"/><path d="M1417.25,981.75L1419,982"/><path d="M1419,982L1420.75,982.5"/><path d="M1420.75,982.5L1422.5,983"/><path d="M1422.5,983L1424,983.25"/><path d="M1424,983.25L1425.75,983.75"/><path d="M1425.75,983.75L1427.5,984"/><path d="M1427.5,984L1429.25,984.5"/><path d="M1429.25,984.5L1431,985"/><path d="M1431,985L1432.5,985.25"/><path d="M1432.5,985.25L1434.25,985.75"/><path d="M1434.25,985.75L1436,986.25"/><path d="M1436,986.25L1437.75,986.5"/><path d="M1437.75,986.5L1439.5,987"/><path d="M1439.5,987L1441.25,987.25"/><path d="M1441.25,987.25L1442.75,987.75"/><path d="M1442.75,987.75L1444.5,988.25"/><path d="M1444.5,988.25L1446.25,988.5"/><path d="M1446.25,988.5L1448,989"/><path d="M1448,989L1449.75,989.25"/><path d="M1449.75,989.25L1451.25,989.75"/><path d="M1451.25,989.75L1453,990.25"/><path d="M1453,990.25L1454.75,990.5"/><path d="M1454.75,990.5L1456.5,991"/><path d="M1456.5,991L1458.25,991.25"/><path d="M1458.25,991.25L1460,991.75"/><path d="M1460,991.75L1461.5,992.25"/><path d="M1461.5,992.25L1463.25,992.5"/><path d="M1463.25,992.5L1465,993"/><path d="M1465,993L1466.75,993.25"/><path d="M1466.75,993.25L1468.5,993.75"/><path d="M1468.5,993.75L1470,994"/><path d="M1470,994L1471.75,994.5"/><path d="M1471.75,994.5L1473.5,994.75"/><path d="M1473.5,994.75L1475.25,995.25"/><path d="M1475.25,995.25L1477,995.75"/><path d="M1477,995.75L1478.5,996"/><path d="M1478.5,996L1480.25,996.5"/><path d="M1480.25,996.5L1482,996.75"/><path d="M1482,996.75L1483.75,997.25"/><path d="M1483.75,997.25L1485.5,997.5"/><path d="M1485.5,997.5L1487.25,998"/><path d="M1487.25,998L1488.75,998.25"/><path d="M1488.75,998.25L1490.5,998.75"/><path d="M1490.5,998.75L1492.25,999"/><path d="M1492.25,999L1494,999.5"/><path d="M1494,999.5L1495.75,999.75"/><path d="M1495.75,999.75L1497.25,1000.25"/><path d="M1497.25,1000.25L1499,1000.5"/><path d="M1499,1000.5L1500.75,1001"/><path d="M1500.75,1001L1502.5,1001.25"/><path d="M1502.5,1001.25L1504.25,1001.75"/><path d="M1504.25,1001.75L1505.75,1002"/><path d="M1505.75,1002L1507.5,1002.5"/><path d="M1507.5,1002.5L1509.25,1002.75"/><path d="M1509.25,1002.75L1511,1003.25"/><path d="M1511,1003.25L1512.75,1003.5"/><path d="M1512.75,1003.5L1514.5,1004"/><path d="M1514.5,1004L1516,1004.25"/><path d="M1516,1004.25L1517.75,1004.75"/><path d="M1517.75,1004.75L1519.5,1005"/><path d="M1519.5,1005L1521.25,1005.5"/><path d="M1521.25,1005.5L1523,1005.75"/><path d="M1523,1005.75L1524.5,1006.25"/><path d="M1524.5,1006.25L1526.25,1006.5"/><path d="M1526.25,1006.5L1528,1006.75"/><path d="M1528,1006.75L1529.75,1007.25"/><path d="M1529.75,1007.25L1531.5,1007.5"/><path d="M1531.5,1007.5L1533,1008"/><path d="M1533,1008L1534.75,1008.25"/><path d="M1534.75,1008.25L1536.5,1008.75"/><path d="M1536.5,1008.75L1538.25,1009"/><path d="M1538.25,1009L1540,1009.5"/><path d="M1540,1009.5L1541.75,1009.75"/><path d="M1541.75,1009.75L1543.25,1010"/><path d="M1543.25,1010L1545,1010.5"/><path d="M1545,1010.5L1546.75,1010.75"/><path d="M1546.75,1010.75L1548.5,1011.25"/><path d="M1548.5,1011.25L1550.25,1011.5"/><path d="M1550.25,1011.5L1551.75,1012"/><path d="M1551.75,1012L1553.5,1012.25"/><path d="M1553.5,1012.25L1555.25,1012.5"/><path d="M1555.25,1012.5L1557,1013"/><path d="M1557,1013L1558.75,1013.25"/><path d="M1558.75,1013.25L1560.5,1013.75"/><path d="M1560.5,1013.75L1562,1014"/><path d="M1562,1014L1563.75,1014.25"/><path d="M1563.75,1014.25L1565.5,1014.75"/><path d="M1565.5,1014.75L1567.25,1015"/><path d="M1567.25,1015L1569,1015.5"/><path d="M1569,1015.5L1570.5,1015.75"/><path d="M1570.5,1015.75L1572.25,1016"/><path d="M1572.25,1016L1574,1016.5"/><path d="M1574,1016.5L1575.75,1016.75"/><path d="M1575.75,1016.75L1577.5,1017"/><path d="M1577.5,1017L1579,1017.5"/><path d="M1579,1017.5L1580.75,1017.75"/><path d="M1580.75,1017.75L1582.5,1018"/><path d="M1582.5,1018L1584.25,1018.5"/><path d="M1584.25,1018.5L1586,1018.75"/><path d="M1586,1018.75L1587.75,1019.25"/><path d="M1587.75,1019.25L1589.25,1019.5"/><path d="M1589.25,1019.5L1591,1019.75"/><path d="M1591,1019.75L1592.75,1020.25"/><path d="M1592.75,1020.25L1594.5,1020.5"/><path d="M1594.5,1020.5L1596.25,1020.75"/><path d="M1596.25,1020.75L1597.75,1021.25"/><path d="M1597.75,1021.25L1599.5,1021.5"/><path d="M1599.5,1021.5L1601.25,1021.75"/><path d="M1601.25,1021.75L1603,1022.25"/><path d="M1603,1022.25L1604.75,1022.5"/><path d="M1604.75,1022.5L1606.25,1022.75"/><path d="M1606.25,1022.75L1608,1023.25"/><path d="M1608,1023.25L1609.75,1023.5"/><path d="M1609.75,1023.5L1611.5,1023.75"/><path d="M1611.5,1023.75L1613.25,1024.25"/><path d="M1613.25,1024.25L1615,1024.5"/><path d="M1615,1024.5L1616.5,1024.75"/><path d="M1616.5,1024.75L1618.25,1025"/><path d="M1618.25,1025L1620,1025.5"/><path d="M1620,1025.5L1621.75,1025.75"/><path d="M1621.75,1025.75L1623.5,1026"/><path d="M1623.5,1026L1625,1026.5"/><path d="M1625,1026.5L1626.75,1026.75"/><path d="M1626.75,1026.75L1628.5,1027"/><path d="M1628.5,1027L1630.25,1027.5"/><path d="M1630.25,1027.5L1632,1027.75"/><path d="M1632,1027.75L1633.75,1028"/><path d="M1633.75,1028L1635.25,1028.25"/><path d="M1635.25,1028.25L1637,1028.75"/><path d="M1637,1028.75L1638.75,1029"/><path d="M1638.75,1029L1640.5,1029.25"/><path d="M1640.5,1029.25L1642.25,1029.5"/><path d="M1642.25,1029.5L1643.75,1030"/><path d="M1643.75,1030L1645.5,1030.25"/><path d="M1645.5,1030.25L1647.25,1030.5"/><path d="M1647.25,1030.5L1649,1031"/><path d="M1649,1031L1650.75,1031.25"/><path d="M1650.75,1031.25L1652.25,1031.5"/><path d="M1652.25,1031.5L1654,1031.75"/><path d="M1654,1031.75L1655.75,1032.25"/><path d="M1655.75,1032.25L1657.5,1032.5"/><path d="M1657.5,1032.5L1659.25,1032.75"/><path d="M1659.25,1032.75L1661,1033"/><path d="M1661,1033L1662.5,1033.5"/><path d="M1662.5,1033.5L1664.25,1033.75"/><path d="M1664.25,1033.75L1666,1034"/><path d="M1666,1034L1667.75,1034.25"/><path d="M1667.75,1034.25L1669.5,1034.5"/><path d="M1669.5,1034.5L1671,1035"/><path d="M1671,1035L1672.75,1035.25"/><path d="M1672.75,1035.25L1674.5,1035.5"/><path d="M1674.5,1035.5L1676.25,1035.75"/><path d="M1676.25,1035.75L1678,1036.25"/><path d="M1678,1036.25L1679.5,1036.5"/><path d="M1679.5,1036.5L1681.25,1036.75"/><path d="M1681.25,1036.75L1683,1037"/><path d="M1683,1037L1684.75,1037.25"/><path d="M1684.75,1037.25L1686.5,1037.75"/><path d="M1686.5,1037.75L1688.25,1038"/><path d="M1688.25,1038L1689.75,1038.25"/><path d="M1689.75,1038.25L1691.5,1038.5"/><path d="M1691.5,1038.5L1693.25,1038.75"/><path d="M1693.25,1038.75L1695,1039.25"/><path d="M1695,1039.25L1696.75,1039.5"/><path d="M1696.75,1039.5L1698.25,1039.75"/><path d="M1698.25,1039.75L1700,1040"/><path d="M1700,1040L1701.75,1040.25"/><path d="M1701.75,1040.25L1703.5,1040.75"/><path d="M1703.5,1040.75L1705.25,1041"/><path d="M1705.25,1041L1707,1041.25"/><path d="M1707,1041.25L1708.5,1041.5"/><path d="M1708.5,1041.5L1710.25,1041.75"/><path d="M1710.25,1041.75L1712,1042"/><path d="M1712,1042L1713.75,1042.5"/><path d="M1713.75,1042.5L1715.5,1042.75"/><path d="M1715.5,1042.75L1717,1043"/><path d="M1717,1043L1718.75,1043.25"/><path d="M1718.75,1043.25L1720.5,1043.5"/><path d="M1720.5,1043.5L1722.25,1043.75"/><path d="M1722.25,1043.75L1724,1044"/><path d="M1724,1044L1725.5,1044.5"/><path d="M1725.5,1044.5L1727.25,1044.75"/><path d="M1727.25,1044.75L1729,1045"/><path d="M1729,1045L1730.75,1045.25"/><path d="M1730.75,1045.25L1732.5,1045.5"/><path d="M1732.5,1045.5L1734.25,1045.75"/><path d="M1734.25,1045.75L1735.75,1046"/><path d="M1735.75,1046L1737.5,1046.5"/><path d="M1737.5,1046.5L1739.25,1046.75"/><path d="M1739.25,1046.75L1741,1047"/><path d="M1741,1047L1742.75,1047.25"/><path d="M1742.75,1047.25L1744.25,1047.5"/><path d="M1744.25,1047.5L1746,1047.75"/><path d="M1746,1047.75L1747.75,1048"/><path d="M1747.75,1048L1749.5,1048.25"/><path d="M1749.5,1048.25L1751.25,1048.75"/><path d="M1751.25,1048.75L1752.75,1049"/><path d="M1752.75,1049L1754.5,1049.25"/><path d="M1754.5,1049.25L1756.25,1049.5"/><path d="M1756.25,1049.5L1758,1049.75"/><path d="M1758,1049.75L1759.75,1050"/><path d="M1759.75,1050L1761.5,1050.25"/><path d="M1761.5,1050.25L1763,1050.5"/><path d="M1763,1050.5L1764.75,1050.75"/><path d="M1764.75,1050.75L1766.5,1051.25"/><path d="M1766.5,1051.25L1768.25,1051.5"/><path d="M1768.25,1051.5L1770,1051.75"/><path d="M1770,1051.75L1771.5,1052"/><path d="M1771.5,1052L1773.25,1052.25"/><path d="M1773.25,1052.25L1775,1052.5"/><path d="M1775,1052.5L1776.75,1052.75"/><path d="M1776.75,1052.75L1778.5,1053"/><path d="M1778.5,1053L1780,1053.25"/><path d="M1780,1053.25L1781.75,1053.5"/><path d="M1781.75,1053.5L1783.5,1053.75"/><path d="M1783.5,1053.75L1785.25,1054"/><path d="M1785.25,1054L1787,1054.25"/><path d="M1787,1054.25L1788.75,1054.75"/><path d="M1788.75,1054.75L1790.25,1055"/><path d="M1790.25,1055L1792,1055.25"/><path d="M1792,1055.25L1793.75,1055.5"/><path d="M1793.75,1055.5L1795.5,1055.75"/><path d="M1795.5,1055.75L1797.25,1056"/><path d="M1797.25,1056L1798.75,1056.25"/><path d="M1798.75,1056.25L1800.5,1056.5"/><path d="M1800.5,1056.5L1802.25,1056.75"/><path d="M1802.25,1056.75L1804,1057"/><path d="M1804,1057L1805.75,1057.25"/><path d="M1805.75,1057.25L1807.5,1057.5"/><path d="M1807.5,1057.5L1809,1057.75"/><path d="M1809,1057.75L1810.75,1058"/><path d="M1810.75,1058L1812.5,1058.25"/><path d="M1812.5,1058.25L1814.25,1058.5"/><path d="M1814.25,1058.5L1816,1058.75"/><path d="M1816,1058.75L1817.5,1059"/></g>
</g>
<g id="xlabels">
<text id="x0" x="284.83" y="1412.80" text-anchor="middle" letter-spacing="-0.545">-200</text>
<text id="x1" x="455.11" y="1412.80" text-anchor="middle" letter-spacing="-0.305">-100</text>
<text id="x2" x="625.59" y="1412.80" text-anchor="middle">0</text>
<text id="x3" x="796.10" y="1412.80" text-anchor="middle">100</text>
<text id="x4" x="965.39" y="1412.80" text-anchor="middle" letter-spacing="0.032">200</text>
<text id="x5" x="1136.27" y="1412.80" text-anchor="middle" letter-spacing="-0.066">300</text>
<text id="x6" x="1306.56" y="1412.80" text-anchor="middle" letter-spacing="-0.437">400</text>
<text id="x7" x="1477.40" y="1412.80" text-anchor="middle" letter-spacing="0.027">500</text>
<text id="x8" x="1647.32" y="1412.80" text-anchor="middle" letter-spacing="-0.403">600</text>
<text id="x9" x="1816.97" y="1412.80" text-anchor="middle" letter-spacing="0.962">700</text>
</g><g id="ylabels">
<text id="y0" x="244.21" y="1333.20" text-anchor="end">0</text>
<text id="y1" x="243.86" y="1086.34" text-anchor="end" letter-spacing="-0.293">0.2</text>
<text id="y2" x="240.71" y="839.48" text-anchor="end" letter-spacing="-1.166">0.4</text>
<text id="y3" x="241.49" y="592.62" text-anchor="end" letter-spacing="-0.980">0.6</text>
<text id="y4" x="241.62" y="345.76" text-anchor="end" letter-spacing="-1.011">0.8</text>
<text id="y5" x="243.30" y="98.90" text-anchor="end">1</text>
</g>
<text id="xt" x="803.43" y="1512.30" text-anchor="start" letter-spacing="0.371" style="font-size:81px">Dealy time (fs)</text>
<text id="yt" transform="translate(112.30,1122.11) rotate(-90)" text-anchor="start" letter-spacing="0.342" style="font-size:81px">Normalized enhancement</text>
<g id="legend">
<rect x="980.3" y="80.2" width="820.7" height="414.3" fill="#fff" stroke="#000" stroke-width="1.8"/>
<path d="M990.1,137.0H1041.4M1122.6,137.0H1173.7" stroke="#515151" stroke-width="11.5"/>
<rect x="1055.2" y="110.0" width="54.1" height="54.1" fill="#515151"/>
<path d="M990.1,237.4H1173.7" stroke="#F14040" stroke-width="11.5"/>
<path d="M990.1,338.0H1173.7" stroke="#1A6FDF" stroke-width="11.5"/>
<path d="M990.1,438.5H1173.7" stroke="#37AD6B" stroke-width="11.5"/>
<text id="l0" x="1191.71" y="164.80" text-anchor="start" letter-spacing="0.502" style="font-size:82px">770 nm</text>
<text id="l1" x="1194.82" y="265.20" text-anchor="start" letter-spacing="-0.492" style="font-size:82px">simulated</text>
<text id="l2" x="1194.17" y="365.50" text-anchor="start" letter-spacing="-0.089" style="font-size:82px">fast (30 fs)</text>
<text id="l3" x="1193.93" y="465.70" text-anchor="start" letter-spacing="0.112" style="font-size:82px">slow (500 fs/0.11)</text>
</g>
</svg></body></html>
